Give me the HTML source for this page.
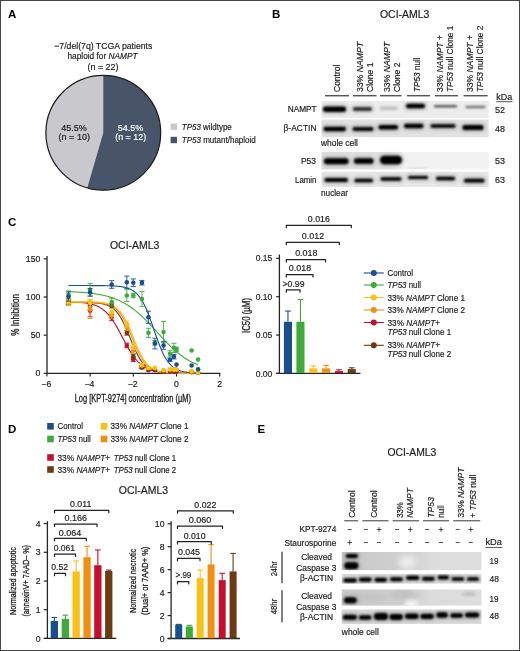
<!DOCTYPE html>
<html><head><meta charset="utf-8"><title>Figure</title>
<style>
html,body{margin:0;padding:0;background:#fff;}
body{width:520px;height:651px;overflow:hidden;position:relative;font-family:"Liberation Sans",sans-serif;}
svg{position:absolute;left:0;top:0;display:block;will-change:transform;}
svg text{font-family:"Liberation Sans",sans-serif;}
#frame{position:absolute;left:0;top:0;width:518px;height:649px;border:1px solid #474747;}
</style></head><body>
<svg width="520" height="651" viewBox="0 0 520 651" fill="#1c1c1c">
<defs>
<filter id="b0_8" x="-30%" y="-100%" width="160%" height="300%"><feGaussianBlur stdDeviation="0.8"/></filter>
<filter id="b1_0" x="-30%" y="-100%" width="160%" height="300%"><feGaussianBlur stdDeviation="1.0"/></filter>
<filter id="b1_2" x="-30%" y="-100%" width="160%" height="300%"><feGaussianBlur stdDeviation="1.2"/></filter>
<filter id="b1_3" x="-30%" y="-100%" width="160%" height="300%"><feGaussianBlur stdDeviation="1.3"/></filter>
<filter id="b1_4" x="-30%" y="-100%" width="160%" height="300%"><feGaussianBlur stdDeviation="1.4"/></filter>
<filter id="b1_5" x="-30%" y="-100%" width="160%" height="300%"><feGaussianBlur stdDeviation="1.5"/></filter>
<filter id="b2_0" x="-30%" y="-100%" width="160%" height="300%"><feGaussianBlur stdDeviation="2.0"/></filter>
<filter id="b3_0" x="-30%" y="-100%" width="160%" height="300%"><feGaussianBlur stdDeviation="3.0"/></filter>
<clipPath id="cb1"><rect x="321.3" y="100.8" width="167.5" height="17.4"/></clipPath>
<clipPath id="cb2"><rect x="321.3" y="119.3" width="167.5" height="18"/></clipPath>
<clipPath id="cb3"><rect x="321.3" y="151.8" width="167.5" height="17.8"/></clipPath>
<clipPath id="cb4"><rect x="321.3" y="171.4" width="167.5" height="15.9"/></clipPath>
<clipPath id="ce1"><rect x="341.5" y="552" width="140.2" height="18.3"/></clipPath>
<clipPath id="ce2"><rect x="341.5" y="573.8" width="140.2" height="10"/></clipPath>
<clipPath id="ce3"><rect x="341.5" y="589.3" width="140.2" height="16.5"/></clipPath>
<clipPath id="ce4"><rect x="341.5" y="609.3" width="140.2" height="14.6"/></clipPath>
<linearGradient id="gp53" x1="0" x2="1" y1="0" y2="0"><stop offset="0" stop-color="#dedede"/><stop offset="0.8" stop-color="#e2e2e2"/><stop offset="1" stop-color="#f2f2f2"/></linearGradient>
<linearGradient id="ge1" x1="0" x2="1" y1="0" y2="0"><stop offset="0" stop-color="#c9c9c9"/><stop offset="0.45" stop-color="#cfcfcf"/><stop offset="0.65" stop-color="#dcdcdc"/><stop offset="1" stop-color="#dedede"/></linearGradient>
</defs>
<text x="8" y="18.3" font-size="11.5" font-weight="bold" fill="#000" >A</text>
<text x="103.3" y="49" font-size="9" text-anchor="middle" textLength="98" lengthAdjust="spacingAndGlyphs" stroke="#1c1c1c" stroke-width="0.18" >−7/del(7q) TCGA patients</text>
<text x="102.5" y="59.3" font-size="9" text-anchor="middle" textLength="70" lengthAdjust="spacingAndGlyphs" stroke="#1c1c1c" stroke-width="0.18" >haploid for <tspan font-style="italic">NAMPT</tspan></text>
<text x="103" y="69.6" font-size="9" text-anchor="middle" textLength="31" lengthAdjust="spacingAndGlyphs" stroke="#1c1c1c" stroke-width="0.18" >(n = 22)</text>
<circle cx="103.3" cy="132.8" r="57.4" fill="#c9c8cc"/>
<path d="M103.3 132.8 L103.3 75.4 A57.4 57.4 0 1 1 87.29 187.92 Z" fill="#485568"/>
<circle cx="103.3" cy="132.8" r="57.4" fill="none" stroke="#1a1a1a" stroke-width="1.2"/>
<text x="73.9" y="130.6" font-size="9" text-anchor="middle" textLength="25.5" lengthAdjust="spacingAndGlyphs" stroke="#1c1c1c" stroke-width="0.18" >45.5%</text>
<text x="74.3" y="140" font-size="9" text-anchor="middle" textLength="31.5" lengthAdjust="spacingAndGlyphs" stroke="#1c1c1c" stroke-width="0.18" >(n = 10)</text>
<text x="130.6" y="130.6" font-size="9" text-anchor="middle" textLength="25.5" lengthAdjust="spacingAndGlyphs" fill="#fff" stroke="#fff" stroke-width="0.18" >54.5%</text>
<text x="130.7" y="140" font-size="9" text-anchor="middle" textLength="31" lengthAdjust="spacingAndGlyphs" fill="#fff" stroke="#fff" stroke-width="0.18" >(n = 12)</text>
<rect x="170.6" y="123.5" width="6.4" height="6.4" fill="#c9c8cc" />
<rect x="170.6" y="136.8" width="6.4" height="6.4" fill="#485568" />
<text x="181.8" y="129.7" font-size="8.7" textLength="50" lengthAdjust="spacingAndGlyphs" stroke="#1c1c1c" stroke-width="0.18" ><tspan font-style="italic">TP53</tspan> wildtype</text>
<text x="181.8" y="143" font-size="8.7" textLength="74" lengthAdjust="spacingAndGlyphs" stroke="#1c1c1c" stroke-width="0.18" ><tspan font-style="italic">TP53</tspan> mutant/haploid</text>
<text x="272" y="18.3" font-size="11.5" font-weight="bold" fill="#000" >B</text>
<text x="380" y="18.3" font-size="10.4" textLength="49.3" lengthAdjust="spacingAndGlyphs" stroke="#1c1c1c" stroke-width="0.18" >OCI-AML3</text>
<line x1="325" y1="95.8" x2="349" y2="95.8" stroke="#111" stroke-width="1" />
<line x1="353" y1="95.8" x2="376.5" y2="95.8" stroke="#111" stroke-width="1" />
<line x1="380" y1="95.8" x2="401.5" y2="95.8" stroke="#111" stroke-width="1" />
<line x1="407" y1="95.8" x2="430" y2="95.8" stroke="#111" stroke-width="1" />
<line x1="435" y1="95.8" x2="458" y2="95.8" stroke="#111" stroke-width="1" />
<line x1="463.5" y1="95.8" x2="487.7" y2="95.8" stroke="#111" stroke-width="1" />
<text font-size="8.7" textLength="27.4" lengthAdjust="spacingAndGlyphs" stroke="#1c1c1c" stroke-width="0.18" transform="translate(340 92) rotate(-90)" >Control</text>
<text font-size="8.7" textLength="50" lengthAdjust="spacingAndGlyphs" stroke="#1c1c1c" stroke-width="0.18" transform="translate(362.5 92) rotate(-90)" >33% <tspan font-style="italic">NAMPT</tspan></text>
<text font-size="8.7" textLength="29.5" lengthAdjust="spacingAndGlyphs" stroke="#1c1c1c" stroke-width="0.18" transform="translate(372.5 92) rotate(-90)" >Clone 1</text>
<text font-size="8.7" textLength="50" lengthAdjust="spacingAndGlyphs" stroke="#1c1c1c" stroke-width="0.18" transform="translate(390.2 92) rotate(-90)" >33% <tspan font-style="italic">NAMPT</tspan></text>
<text font-size="8.7" textLength="29.5" lengthAdjust="spacingAndGlyphs" stroke="#1c1c1c" stroke-width="0.18" transform="translate(400.2 92) rotate(-90)" >Clone 2</text>
<text font-size="8.7" textLength="34.7" lengthAdjust="spacingAndGlyphs" stroke="#1c1c1c" stroke-width="0.18" transform="translate(420.4 92) rotate(-90)" ><tspan font-style="italic">TP53</tspan> null</text>
<text font-size="8.7" textLength="57" lengthAdjust="spacingAndGlyphs" stroke="#1c1c1c" stroke-width="0.18" transform="translate(443.3 92) rotate(-90)" >33% <tspan font-style="italic">NAMPT</tspan> +</text>
<text font-size="8.7" textLength="66.4" lengthAdjust="spacingAndGlyphs" stroke="#1c1c1c" stroke-width="0.18" transform="translate(453.2 92) rotate(-90)" ><tspan font-style="italic">TP53</tspan> null Clone 1</text>
<text font-size="8.7" textLength="57" lengthAdjust="spacingAndGlyphs" stroke="#1c1c1c" stroke-width="0.18" transform="translate(472.9 92) rotate(-90)" >33% <tspan font-style="italic">NAMPT</tspan> +</text>
<text font-size="8.7" textLength="66.4" lengthAdjust="spacingAndGlyphs" stroke="#1c1c1c" stroke-width="0.18" transform="translate(483.1 92) rotate(-90)" ><tspan font-style="italic">TP53</tspan> null Clone 2</text>
<text x="496.3" y="100" font-size="8.7" textLength="16" lengthAdjust="spacingAndGlyphs" stroke="#1c1c1c" stroke-width="0.18" >kDa</text>
<line x1="496.3" y1="101.7" x2="512.5" y2="101.7" stroke="#222" stroke-width="0.8" />
<text x="316.6" y="111.9" font-size="8.7" text-anchor="end" textLength="28.9" lengthAdjust="spacingAndGlyphs" stroke="#1c1c1c" stroke-width="0.18" >NAMPT</text>
<text x="316.5" y="131" font-size="8.7" text-anchor="end" textLength="33" lengthAdjust="spacingAndGlyphs" stroke="#1c1c1c" stroke-width="0.18" >β-ACTIN</text>
<text x="321" y="146" font-size="8.7" textLength="37" lengthAdjust="spacingAndGlyphs" stroke="#1c1c1c" stroke-width="0.18" >whole cell</text>
<text x="316" y="163.8" font-size="8.7" text-anchor="end" textLength="15" lengthAdjust="spacingAndGlyphs" stroke="#1c1c1c" stroke-width="0.18" >P53</text>
<text x="316.5" y="182.5" font-size="8.7" text-anchor="end" textLength="21.5" lengthAdjust="spacingAndGlyphs" stroke="#1c1c1c" stroke-width="0.18" >Lamin</text>
<text x="321" y="196" font-size="8.7" textLength="27" lengthAdjust="spacingAndGlyphs" stroke="#1c1c1c" stroke-width="0.18" >nuclear</text>
<text x="495" y="113" font-size="8.7" textLength="10" lengthAdjust="spacingAndGlyphs" stroke="#1c1c1c" stroke-width="0.18" >52</text>
<text x="495" y="131.5" font-size="8.7" textLength="10" lengthAdjust="spacingAndGlyphs" stroke="#1c1c1c" stroke-width="0.18" >48</text>
<text x="495" y="163.8" font-size="8.7" textLength="10" lengthAdjust="spacingAndGlyphs" stroke="#1c1c1c" stroke-width="0.18" >53</text>
<text x="495" y="182.5" font-size="8.7" textLength="10" lengthAdjust="spacingAndGlyphs" stroke="#1c1c1c" stroke-width="0.18" >63</text>
<g clip-path="url(#cb1)">
<rect x="321.3" y="100.8" width="167.5" height="17.4" fill="#ececec" />
<rect x="321.495" y="105.05" width="26.00999999999999" height="8.5" rx="4.25" fill="#000" opacity="0.22" filter="url(#b2_0)"/>
<rect x="322.995" y="106.55" width="23.00999999999999" height="5.5" rx="2.75" ry="2.75" fill="#000" opacity="1" filter="url(#b1_0)"/>
<rect x="351.495" y="105.85" width="22.00999999999999" height="6.300000000000001" rx="3.1500000000000004" fill="#000" opacity="0.22" filter="url(#b2_0)"/>
<rect x="352.995" y="107.35" width="19.00999999999999" height="3.3000000000000003" rx="1.6500000000000001" ry="1.6500000000000001" fill="#000" opacity="0.8" filter="url(#b1_2)"/>
<rect x="379.495" y="107.05" width="18.00999999999999" height="2.3000000000000003" rx="1.1500000000000001" ry="1.1500000000000001" fill="#000" opacity="0.3" filter="url(#b1_5)"/>
<rect x="404.495" y="102.15" width="22.00999999999999" height="7.699999999999999" rx="3.8499999999999996" fill="#000" opacity="0.22" filter="url(#b2_0)"/>
<rect x="405.995" y="103.65" width="19.00999999999999" height="4.699999999999999" rx="2.3499999999999996" ry="2.3499999999999996" fill="#000" opacity="1" filter="url(#b1_0)"/>
<rect x="433.995" y="105.05" width="23.00999999999999" height="2.5" rx="1.25" ry="1.25" fill="#000" opacity="0.62" filter="url(#b1_3)"/>
<rect x="465.495" y="105.75" width="20.00999999999999" height="2.5" rx="1.25" ry="1.25" fill="#000" opacity="0.52" filter="url(#b1_3)"/>
</g>
<g clip-path="url(#cb2)">
<rect x="321.3" y="119.3" width="167.5" height="18" fill="#e2e2e2" />
<rect x="321.995" y="125.35" width="25.50999999999999" height="7.3" rx="3.65" fill="#000" opacity="0.22" filter="url(#b2_0)"/>
<rect x="323.495" y="126.85" width="22.50999999999999" height="4.3" rx="2.15" ry="2.15" fill="#000" opacity="1" filter="url(#b1_0)"/>
<rect x="350.995" y="125.45" width="24.00999999999999" height="7.1" rx="3.55" fill="#000" opacity="0.22" filter="url(#b2_0)"/>
<rect x="352.495" y="126.95" width="21.00999999999999" height="4.1" rx="2.05" ry="2.05" fill="#000" opacity="0.95" filter="url(#b1_0)"/>
<rect x="376.995" y="123.45" width="22.50999999999999" height="7.5" rx="3.75" fill="#000" opacity="0.22" filter="url(#b2_0)"/>
<rect x="378.495" y="124.95" width="19.50999999999999" height="4.5" rx="2.25" ry="2.25" fill="#000" opacity="1" filter="url(#b1_0)"/>
<rect x="402.495" y="122.35" width="22.50999999999999" height="7.3" rx="3.65" fill="#000" opacity="0.22" filter="url(#b2_0)"/>
<rect x="403.995" y="123.85" width="19.50999999999999" height="4.3" rx="2.15" ry="2.15" fill="#000" opacity="1" filter="url(#b1_0)"/>
<rect x="428.995" y="122.75" width="28.00999999999999" height="6.5" rx="3.25" fill="#000" opacity="0.22" filter="url(#b2_0)"/>
<rect x="430.495" y="124.25" width="25.00999999999999" height="3.5000000000000004" rx="1.7500000000000002" ry="1.7500000000000002" fill="#000" opacity="1" filter="url(#b1_0)"/>
<rect x="460.995" y="123.45" width="24.00999999999999" height="8.1" rx="4.05" fill="#000" opacity="0.22" filter="url(#b2_0)"/>
<rect x="462.495" y="124.95" width="21.00999999999999" height="5.1" rx="2.55" ry="2.55" fill="#000" opacity="1" filter="url(#b1_0)"/>
</g>
<g clip-path="url(#cb3)">
<rect x="321.3" y="151.8" width="167.5" height="17.8" fill="#f2f2f2" />
<rect x="321.3" y="151.8" width="84" height="17.8" fill="url(#gp53)" />
<rect x="322.495" y="156.75" width="27.50999999999999" height="9.1" rx="4.55" fill="#000" opacity="0.22" filter="url(#b2_0)"/>
<rect x="323.995" y="158.25" width="24.50999999999999" height="6.1" rx="3.05" ry="3.05" fill="#000" opacity="1" filter="url(#b1_0)"/>
<rect x="352.495" y="156.65" width="22.50999999999999" height="8.7" rx="4.35" fill="#000" opacity="0.22" filter="url(#b2_0)"/>
<rect x="353.995" y="158.15" width="19.50999999999999" height="5.699999999999999" rx="2.8499999999999996" ry="2.8499999999999996" fill="#000" opacity="1" filter="url(#b1_0)"/>
<rect x="378.495" y="154.15" width="25.00999999999999" height="11.7" rx="5.85" fill="#000" opacity="0.22" filter="url(#b2_0)"/>
<rect x="379.995" y="155.65" width="22.00999999999999" height="8.7" rx="4.35" ry="4.35" fill="#000" opacity="1" filter="url(#b1_0)"/>
<rect x="407.495" y="167.7" width="20.00999999999999" height="1.6" rx="0.8" ry="0.8" fill="#000" opacity="0.12" filter="url(#b1_5)"/>
</g>
<g clip-path="url(#cb4)">
<rect x="321.3" y="171.4" width="167.5" height="15.9" fill="#e7e7e7" />
<rect x="322.995" y="176.45" width="26.50999999999999" height="7.1" rx="3.55" fill="#000" opacity="0.22" filter="url(#b2_0)"/>
<rect x="324.495" y="177.95" width="23.50999999999999" height="4.1" rx="2.05" ry="2.05" fill="#000" opacity="1" filter="url(#b1_0)"/>
<rect x="352.995" y="177.15" width="21.50999999999999" height="6.699999999999999" rx="3.3499999999999996" fill="#000" opacity="0.22" filter="url(#b2_0)"/>
<rect x="354.495" y="178.65" width="18.50999999999999" height="3.6999999999999997" rx="1.8499999999999999" ry="1.8499999999999999" fill="#000" opacity="1" filter="url(#b1_0)"/>
<rect x="378.995" y="175.75" width="24.00999999999999" height="6.5" rx="3.25" fill="#000" opacity="0.22" filter="url(#b2_0)"/>
<rect x="380.495" y="177.25" width="21.00999999999999" height="3.5000000000000004" rx="1.7500000000000002" ry="1.7500000000000002" fill="#000" opacity="1" filter="url(#b1_0)"/>
<rect x="406.495" y="174.5" width="23.00999999999999" height="6.0" rx="3.0" fill="#000" opacity="0.22" filter="url(#b2_0)"/>
<rect x="407.995" y="176.0" width="20.00999999999999" height="3.0" rx="1.5" ry="1.5" fill="#000" opacity="1" filter="url(#b1_0)"/>
<rect x="434.495" y="175.35" width="22.00999999999999" height="6.5" rx="3.25" fill="#000" opacity="0.22" filter="url(#b2_0)"/>
<rect x="435.995" y="176.85" width="19.00999999999999" height="3.5000000000000004" rx="1.7500000000000002" ry="1.7500000000000002" fill="#000" opacity="1" filter="url(#b1_0)"/>
<rect x="462.495" y="177.35" width="23.50999999999999" height="6.699999999999999" rx="3.3499999999999996" fill="#000" opacity="0.22" filter="url(#b2_0)"/>
<rect x="463.995" y="178.85" width="20.50999999999999" height="3.6999999999999997" rx="1.8499999999999999" ry="1.8499999999999999" fill="#000" opacity="1" filter="url(#b1_0)"/>
</g>
<text x="8" y="226.3" font-size="11.5" font-weight="bold" fill="#000" >C</text>
<text x="110" y="248.8" font-size="10.4" textLength="49.3" lengthAdjust="spacingAndGlyphs" stroke="#1c1c1c" stroke-width="0.18" >OCI-AML3</text>
<line x1="47" y1="256" x2="47" y2="374" stroke="#262626" stroke-width="1.3" />
<line x1="46.4" y1="373.3" x2="220.3" y2="373.3" stroke="#262626" stroke-width="1.3" />
<line x1="43.7" y1="373.3" x2="47" y2="373.3" stroke="#262626" stroke-width="1.2" />
<text x="40.3" y="376.40000000000003" font-size="8.7" text-anchor="end" stroke="#1c1c1c" stroke-width="0.18" >0</text>
<line x1="43.7" y1="335.15000000000003" x2="47" y2="335.15000000000003" stroke="#262626" stroke-width="1.2" />
<text x="40.3" y="338.25000000000006" font-size="8.7" text-anchor="end" stroke="#1c1c1c" stroke-width="0.18" >50</text>
<line x1="43.7" y1="297.0" x2="47" y2="297.0" stroke="#262626" stroke-width="1.2" />
<text x="40.3" y="300.1" font-size="8.7" text-anchor="end" stroke="#1c1c1c" stroke-width="0.18" >100</text>
<line x1="43.7" y1="258.85" x2="47" y2="258.85" stroke="#262626" stroke-width="1.2" />
<text x="40.3" y="261.95000000000005" font-size="8.7" text-anchor="end" stroke="#1c1c1c" stroke-width="0.18" >150</text>
<line x1="46.89999999999998" y1="373.3" x2="46.89999999999998" y2="376.5" stroke="#262626" stroke-width="1.2" />
<text x="46.299999999999976" y="387" font-size="8.7" text-anchor="middle" stroke="#1c1c1c" stroke-width="0.18" >−6</text>
<line x1="90.1" y1="373.3" x2="90.1" y2="376.5" stroke="#262626" stroke-width="1.2" />
<text x="89.5" y="387" font-size="8.7" text-anchor="middle" stroke="#1c1c1c" stroke-width="0.18" >−4</text>
<line x1="133.3" y1="373.3" x2="133.3" y2="376.5" stroke="#262626" stroke-width="1.2" />
<text x="132.70000000000002" y="387" font-size="8.7" text-anchor="middle" stroke="#1c1c1c" stroke-width="0.18" >−2</text>
<line x1="176.5" y1="373.3" x2="176.5" y2="376.5" stroke="#262626" stroke-width="1.2" />
<text x="176.5" y="387" font-size="8.7" text-anchor="middle" stroke="#1c1c1c" stroke-width="0.18" >0</text>
<line x1="219.7" y1="373.3" x2="219.7" y2="376.5" stroke="#262626" stroke-width="1.2" />
<text x="219.7" y="387" font-size="8.7" text-anchor="middle" stroke="#1c1c1c" stroke-width="0.18" >2</text>
<text font-size="10.2" text-anchor="middle" textLength="41.5" lengthAdjust="spacingAndGlyphs" transform="translate(19 314.9) rotate(-90)" stroke="#1c1c1c" stroke-width="0.3">% Inhibition</text>
<text x="132.8" y="402.4" font-size="10" text-anchor="middle" textLength="116.2" lengthAdjust="spacingAndGlyphs" stroke="#1c1c1c" stroke-width="0.3">Log [KPT-9274] concentration (µM)</text>
<path d="M68.50 301.80 L69.58 301.83 L70.66 301.86 L71.74 301.90 L72.82 301.94 L73.90 301.98 L74.98 302.03 L76.06 302.08 L77.14 302.14 L78.22 302.21 L79.30 302.29 L80.38 302.37 L81.46 302.47 L82.54 302.58 L83.62 302.70 L84.70 302.83 L85.78 302.98 L86.86 303.15 L87.94 303.34 L89.02 303.54 L90.10 303.78 L91.18 304.04 L92.26 304.32 L93.34 304.64 L94.42 305.00 L95.50 305.40 L96.58 305.83 L97.66 306.32 L98.74 306.86 L99.82 307.45 L100.90 308.10 L101.98 308.81 L103.06 309.60 L104.14 310.46 L105.22 311.39 L106.30 312.41 L107.38 313.51 L108.46 314.70 L109.54 315.98 L110.62 317.35 L111.70 318.81 L112.78 320.36 L113.86 322.00 L114.94 323.72 L116.02 325.52 L117.10 327.39 L118.18 329.32 L119.26 331.31 L120.34 333.33 L121.42 335.38 L122.50 337.44 L123.58 339.50 L124.66 341.55 L125.74 343.57 L126.82 345.55 L127.90 347.48 L128.98 349.35 L130.06 351.15 L131.14 352.88 L132.22 354.52 L133.30 356.07 L134.38 357.53 L135.46 358.90 L136.54 360.18 L137.62 361.37 L138.70 362.47 L139.78 363.49 L140.86 364.42 L141.94 365.28 L143.02 366.06 L144.10 366.78 L145.18 367.43 L146.26 368.02 L147.34 368.56 L148.42 369.04 L149.50 369.48 L150.58 369.88 L151.66 370.23 L152.74 370.55 L153.82 370.84 L154.90 371.10 L155.98 371.33 L157.06 371.54 L158.14 371.73 L159.22 371.90 L160.30 372.05 L161.38 372.18 L162.46 372.30 L163.54 372.41 L164.62 372.50 L165.70 372.59 L166.78 372.67 L167.86 372.73 L168.94 372.80 L170.02 372.85 L171.10 372.90 L172.18 372.94 L173.26 372.98 L174.34 373.02 L175.42 373.05 L176.50 373.07 L177.58 373.10 L178.66 373.12 L179.74 373.14 L180.82 373.16 L181.90 373.17 L182.98 373.19 L184.06 373.20 L185.14 373.21 L186.22 373.22 L187.30 373.23 L188.38 373.24 L189.46 373.24 L190.54 373.25 L191.62 373.25 L192.70 373.26 L193.78 373.26 L194.86 373.27 L195.94 373.27 L197.02 373.27 L198.10 373.28" fill="none" stroke="#c50f2e" stroke-width="1.1"/>
<path d="M68.50 302.35 L69.58 302.36 L70.66 302.36 L71.74 302.36 L72.82 302.37 L73.90 302.37 L74.98 302.38 L76.06 302.38 L77.14 302.39 L78.22 302.39 L79.30 302.40 L80.38 302.41 L81.46 302.43 L82.54 302.44 L83.62 302.45 L84.70 302.47 L85.78 302.49 L86.86 302.52 L87.94 302.55 L89.02 302.58 L90.10 302.62 L91.18 302.66 L92.26 302.72 L93.34 302.78 L94.42 302.85 L95.50 302.93 L96.58 303.02 L97.66 303.13 L98.74 303.25 L99.82 303.40 L100.90 303.57 L101.98 303.76 L103.06 303.98 L104.14 304.24 L105.22 304.54 L106.30 304.88 L107.38 305.28 L108.46 305.73 L109.54 306.24 L110.62 306.83 L111.70 307.51 L112.78 308.27 L113.86 309.14 L114.94 310.11 L116.02 311.21 L117.10 312.44 L118.18 313.81 L119.26 315.32 L120.34 316.98 L121.42 318.80 L122.50 320.77 L123.58 322.88 L124.66 325.13 L125.74 327.51 L126.82 329.99 L127.90 332.55 L128.98 335.17 L130.06 337.82 L131.14 340.47 L132.22 343.09 L133.30 345.65 L134.38 348.13 L135.46 350.51 L136.54 352.76 L137.62 354.87 L138.70 356.84 L139.78 358.66 L140.86 360.32 L141.94 361.83 L143.02 363.20 L144.10 364.43 L145.18 365.53 L146.26 366.50 L147.34 367.37 L148.42 368.13 L149.50 368.81 L150.58 369.40 L151.66 369.91 L152.74 370.36 L153.82 370.76 L154.90 371.10 L155.98 371.40 L157.06 371.66 L158.14 371.88 L159.22 372.07 L160.30 372.24 L161.38 372.39 L162.46 372.51 L163.54 372.62 L164.62 372.71 L165.70 372.80 L166.78 372.87 L167.86 372.93 L168.94 372.98 L170.02 373.02 L171.10 373.06 L172.18 373.09 L173.26 373.12 L174.34 373.15 L175.42 373.17 L176.50 373.19 L177.58 373.20 L178.66 373.22 L179.74 373.23 L180.82 373.24 L181.90 373.25 L182.98 373.25 L184.06 373.26 L185.14 373.27 L186.22 373.27 L187.30 373.27 L188.38 373.28 L189.46 373.28 L190.54 373.28 L191.62 373.29 L192.70 373.29 L193.78 373.29 L194.86 373.29 L195.94 373.29 L197.02 373.29 L198.10 373.29" fill="none" stroke="#6c3b12" stroke-width="1.1"/>
<path d="M68.50 302.35 L69.58 302.35 L70.66 302.35 L71.74 302.36 L72.82 302.36 L73.90 302.36 L74.98 302.37 L76.06 302.37 L77.14 302.38 L78.22 302.38 L79.30 302.39 L80.38 302.39 L81.46 302.40 L82.54 302.41 L83.62 302.43 L84.70 302.44 L85.78 302.45 L86.86 302.47 L87.94 302.49 L89.02 302.52 L90.10 302.55 L91.18 302.58 L92.26 302.62 L93.34 302.66 L94.42 302.72 L95.50 302.78 L96.58 302.85 L97.66 302.93 L98.74 303.02 L99.82 303.13 L100.90 303.25 L101.98 303.40 L103.06 303.57 L104.14 303.76 L105.22 303.98 L106.30 304.24 L107.38 304.54 L108.46 304.88 L109.54 305.28 L110.62 305.73 L111.70 306.24 L112.78 306.83 L113.86 307.51 L114.94 308.27 L116.02 309.14 L117.10 310.11 L118.18 311.21 L119.26 312.44 L120.34 313.81 L121.42 315.32 L122.50 316.98 L123.58 318.80 L124.66 320.77 L125.74 322.88 L126.82 325.13 L127.90 327.51 L128.98 329.99 L130.06 332.55 L131.14 335.17 L132.22 337.82 L133.30 340.47 L134.38 343.09 L135.46 345.65 L136.54 348.13 L137.62 350.51 L138.70 352.76 L139.78 354.87 L140.86 356.84 L141.94 358.66 L143.02 360.32 L144.10 361.83 L145.18 363.20 L146.26 364.43 L147.34 365.53 L148.42 366.50 L149.50 367.37 L150.58 368.13 L151.66 368.81 L152.74 369.40 L153.82 369.91 L154.90 370.36 L155.98 370.76 L157.06 371.10 L158.14 371.40 L159.22 371.66 L160.30 371.88 L161.38 372.07 L162.46 372.24 L163.54 372.39 L164.62 372.51 L165.70 372.62 L166.78 372.71 L167.86 372.80 L168.94 372.87 L170.02 372.93 L171.10 372.98 L172.18 373.02 L173.26 373.06 L174.34 373.09 L175.42 373.12 L176.50 373.15 L177.58 373.17 L178.66 373.19 L179.74 373.20 L180.82 373.22 L181.90 373.23 L182.98 373.24 L184.06 373.25 L185.14 373.25 L186.22 373.26 L187.30 373.27 L188.38 373.27 L189.46 373.27 L190.54 373.28 L191.62 373.28 L192.70 373.28 L193.78 373.29 L194.86 373.29 L195.94 373.29 L197.02 373.29 L198.10 373.29" fill="none" stroke="#f28e10" stroke-width="1.1"/>
<path d="M68.50 301.59 L69.58 301.59 L70.66 301.59 L71.74 301.59 L72.82 301.59 L73.90 301.60 L74.98 301.60 L76.06 301.60 L77.14 301.61 L78.22 301.61 L79.30 301.62 L80.38 301.62 L81.46 301.63 L82.54 301.64 L83.62 301.65 L84.70 301.66 L85.78 301.68 L86.86 301.69 L87.94 301.71 L89.02 301.73 L90.10 301.76 L91.18 301.79 L92.26 301.82 L93.34 301.86 L94.42 301.90 L95.50 301.96 L96.58 302.02 L97.66 302.09 L98.74 302.17 L99.82 302.26 L100.90 302.37 L101.98 302.50 L103.06 302.65 L104.14 302.82 L105.22 303.01 L106.30 303.24 L107.38 303.50 L108.46 303.80 L109.54 304.15 L110.62 304.54 L111.70 305.00 L112.78 305.52 L113.86 306.12 L114.94 306.80 L116.02 307.57 L117.10 308.45 L118.18 309.44 L119.26 310.55 L120.34 311.79 L121.42 313.17 L122.50 314.70 L123.58 316.38 L124.66 318.21 L125.74 320.20 L126.82 322.34 L127.90 324.61 L128.98 327.01 L130.06 329.52 L131.14 332.11 L132.22 334.76 L133.30 337.44 L134.38 340.12 L135.46 342.77 L136.54 345.36 L137.62 347.86 L138.70 350.26 L139.78 352.54 L140.86 354.68 L141.94 356.66 L143.02 358.50 L144.10 360.18 L145.18 361.71 L146.26 363.09 L147.34 364.33 L148.42 365.44 L149.50 366.43 L150.58 367.31 L151.66 368.08 L152.74 368.76 L153.82 369.35 L154.90 369.88 L155.98 370.33 L157.06 370.73 L158.14 371.08 L159.22 371.38 L160.30 371.64 L161.38 371.86 L162.46 372.06 L163.54 372.23 L164.62 372.38 L165.70 372.50 L166.78 372.61 L167.86 372.71 L168.94 372.79 L170.02 372.86 L171.10 372.92 L172.18 372.97 L173.26 373.02 L174.34 373.06 L175.42 373.09 L176.50 373.12 L177.58 373.15 L178.66 373.17 L179.74 373.19 L180.82 373.20 L181.90 373.21 L182.98 373.23 L184.06 373.24 L185.14 373.25 L186.22 373.25 L187.30 373.26 L188.38 373.27 L189.46 373.27 L190.54 373.27 L191.62 373.28 L192.70 373.28 L193.78 373.28 L194.86 373.29 L195.94 373.29 L197.02 373.29 L198.10 373.29" fill="none" stroke="#fac015" stroke-width="1.1"/>
<path d="M68.50 291.62 L69.58 291.67 L70.66 291.71 L71.74 291.76 L72.82 291.81 L73.90 291.86 L74.98 291.92 L76.06 291.98 L77.14 292.04 L78.22 292.11 L79.30 292.18 L80.38 292.26 L81.46 292.34 L82.54 292.42 L83.62 292.51 L84.70 292.60 L85.78 292.70 L86.86 292.80 L87.94 292.92 L89.02 293.03 L90.10 293.15 L91.18 293.28 L92.26 293.42 L93.34 293.57 L94.42 293.72 L95.50 293.88 L96.58 294.05 L97.66 294.23 L98.74 294.42 L99.82 294.62 L100.90 294.83 L101.98 295.05 L103.06 295.28 L104.14 295.53 L105.22 295.79 L106.30 296.06 L107.38 296.34 L108.46 296.64 L109.54 296.96 L110.62 297.29 L111.70 297.64 L112.78 298.00 L113.86 298.39 L114.94 298.79 L116.02 299.21 L117.10 299.65 L118.18 300.11 L119.26 300.59 L120.34 301.10 L121.42 301.62 L122.50 302.17 L123.58 302.74 L124.66 303.34 L125.74 303.96 L126.82 304.60 L127.90 305.27 L128.98 305.97 L130.06 306.69 L131.14 307.44 L132.22 308.21 L133.30 309.01 L134.38 309.84 L135.46 310.69 L136.54 311.57 L137.62 312.48 L138.70 313.41 L139.78 314.36 L140.86 315.34 L141.94 316.34 L143.02 317.36 L144.10 318.41 L145.18 319.47 L146.26 320.56 L147.34 321.66 L148.42 322.78 L149.50 323.91 L150.58 325.05 L151.66 326.21 L152.74 327.38 L153.82 328.55 L154.90 329.73 L155.98 330.91 L157.06 332.10 L158.14 333.28 L159.22 334.47 L160.30 335.65 L161.38 336.82 L162.46 337.99 L163.54 339.14 L164.62 340.29 L165.70 341.42 L166.78 342.54 L167.86 343.64 L168.94 344.72 L170.02 345.79 L171.10 346.83 L172.18 347.86 L173.26 348.86 L174.34 349.84 L175.42 350.79 L176.50 351.72 L177.58 352.62 L178.66 353.50 L179.74 354.36 L180.82 355.18 L181.90 355.98 L182.98 356.76 L184.06 357.50 L185.14 358.23 L186.22 358.92 L187.30 359.59 L188.38 360.24 L189.46 360.86 L190.54 361.45 L191.62 362.03 L192.70 362.58 L193.78 363.10 L194.86 363.60 L195.94 364.09 L197.02 364.55 L198.10 364.99" fill="none" stroke="#3daa3a" stroke-width="1.1"/>
<path d="M68.50 285.56 L69.58 285.56 L70.66 285.56 L71.74 285.56 L72.82 285.56 L73.90 285.56 L74.98 285.56 L76.06 285.56 L77.14 285.56 L78.22 285.56 L79.30 285.56 L80.38 285.56 L81.46 285.56 L82.54 285.56 L83.62 285.56 L84.70 285.56 L85.78 285.57 L86.86 285.57 L87.94 285.57 L89.02 285.57 L90.10 285.57 L91.18 285.58 L92.26 285.58 L93.34 285.58 L94.42 285.59 L95.50 285.59 L96.58 285.60 L97.66 285.60 L98.74 285.61 L99.82 285.62 L100.90 285.63 L101.98 285.64 L103.06 285.66 L104.14 285.67 L105.22 285.69 L106.30 285.71 L107.38 285.73 L108.46 285.76 L109.54 285.79 L110.62 285.83 L111.70 285.87 L112.78 285.92 L113.86 285.98 L114.94 286.05 L116.02 286.12 L117.10 286.21 L118.18 286.31 L119.26 286.42 L120.34 286.56 L121.42 286.71 L122.50 286.89 L123.58 287.09 L124.66 287.32 L125.74 287.59 L126.82 287.89 L127.90 288.24 L128.98 288.65 L130.06 289.11 L131.14 289.63 L132.22 290.23 L133.30 290.91 L134.38 291.68 L135.46 292.55 L136.54 293.53 L137.62 294.64 L138.70 295.88 L139.78 297.26 L140.86 298.80 L141.94 300.50 L143.02 302.37 L144.10 304.42 L145.18 306.64 L146.26 309.03 L147.34 311.58 L148.42 314.29 L149.50 317.14 L150.58 320.10 L151.66 323.16 L152.74 326.28 L153.82 329.43 L154.90 332.58 L155.98 335.70 L157.06 338.75 L158.14 341.72 L159.22 344.56 L160.30 347.27 L161.38 349.83 L162.46 352.22 L163.54 354.44 L164.62 356.48 L165.70 358.35 L166.78 360.05 L167.86 361.59 L168.94 362.98 L170.02 364.22 L171.10 365.32 L172.18 366.31 L173.26 367.18 L174.34 367.95 L175.42 368.63 L176.50 369.23 L177.58 369.75 L178.66 370.21 L179.74 370.61 L180.82 370.96 L181.90 371.27 L182.98 371.53 L184.06 371.77 L185.14 371.97 L186.22 372.15 L187.30 372.30 L188.38 372.43 L189.46 372.55 L190.54 372.65 L191.62 372.73 L192.70 372.81 L193.78 372.87 L194.86 372.93 L195.94 372.98 L197.02 373.02 L198.10 373.06" fill="none" stroke="#1a4f8e" stroke-width="1.1"/>
<line x1="68.5" y1="299.289" x2="68.5" y2="303.867" stroke="#c50f2e" stroke-width="0.9" />
<line x1="65.9" y1="299.289" x2="71.1" y2="299.289" stroke="#c50f2e" stroke-width="0.9" />
<line x1="65.9" y1="303.867" x2="71.1" y2="303.867" stroke="#c50f2e" stroke-width="0.9" />
<line x1="90.1" y1="304.63" x2="90.1" y2="316.838" stroke="#c50f2e" stroke-width="0.9" />
<line x1="87.5" y1="304.63" x2="92.69999999999999" y2="304.63" stroke="#c50f2e" stroke-width="0.9" />
<line x1="87.5" y1="316.838" x2="92.69999999999999" y2="316.838" stroke="#c50f2e" stroke-width="0.9" />
<line x1="111.69999999999999" y1="314.54900000000004" x2="111.69999999999999" y2="320.653" stroke="#c50f2e" stroke-width="0.9" />
<line x1="109.1" y1="314.54900000000004" x2="114.29999999999998" y2="314.54900000000004" stroke="#c50f2e" stroke-width="0.9" />
<line x1="109.1" y1="320.653" x2="114.29999999999998" y2="320.653" stroke="#c50f2e" stroke-width="0.9" />
<line x1="126.82" y1="343.1615" x2="126.82" y2="347.7395" stroke="#c50f2e" stroke-width="0.9" />
<line x1="124.22" y1="343.1615" x2="129.42" y2="343.1615" stroke="#c50f2e" stroke-width="0.9" />
<line x1="124.22" y1="347.7395" x2="129.42" y2="347.7395" stroke="#c50f2e" stroke-width="0.9" />
<line x1="133.3" y1="356.97180000000003" x2="133.3" y2="361.5498" stroke="#c50f2e" stroke-width="0.9" />
<line x1="130.70000000000002" y1="356.97180000000003" x2="135.9" y2="356.97180000000003" stroke="#c50f2e" stroke-width="0.9" />
<line x1="130.70000000000002" y1="361.5498" x2="135.9" y2="361.5498" stroke="#c50f2e" stroke-width="0.9" />
<line x1="141.94" y1="365.67" x2="141.94" y2="368.72200000000004" stroke="#c50f2e" stroke-width="0.9" />
<line x1="139.34" y1="365.67" x2="144.54" y2="365.67" stroke="#c50f2e" stroke-width="0.9" />
<line x1="139.34" y1="368.72200000000004" x2="144.54" y2="368.72200000000004" stroke="#c50f2e" stroke-width="0.9" />
<circle cx="68.50" cy="301.58" r="2.3" fill="#c50f2e"/>
<circle cx="90.10" cy="310.73" r="2.3" fill="#c50f2e"/>
<circle cx="111.70" cy="317.60" r="2.3" fill="#c50f2e"/>
<circle cx="126.82" cy="345.45" r="2.3" fill="#c50f2e"/>
<circle cx="133.30" cy="359.26" r="2.3" fill="#c50f2e"/>
<circle cx="141.94" cy="367.20" r="2.3" fill="#c50f2e"/>
<circle cx="148.42" cy="370.25" r="2.3" fill="#c50f2e"/>
<circle cx="154.90" cy="370.25" r="2.3" fill="#c50f2e"/>
<circle cx="163.54" cy="371.77" r="2.3" fill="#c50f2e"/>
<circle cx="170.02" cy="371.77" r="2.3" fill="#c50f2e"/>
<circle cx="173.91" cy="371.77" r="2.3" fill="#c50f2e"/>
<circle cx="176.50" cy="371.77" r="2.3" fill="#c50f2e"/>
<circle cx="191.62" cy="372.16" r="2.3" fill="#c50f2e"/>
<circle cx="198.10" cy="372.54" r="2.3" fill="#c50f2e"/>
<line x1="68.5" y1="300.052" x2="68.5" y2="304.63" stroke="#6c3b12" stroke-width="0.9" />
<line x1="65.9" y1="300.052" x2="71.1" y2="300.052" stroke="#6c3b12" stroke-width="0.9" />
<line x1="65.9" y1="304.63" x2="71.1" y2="304.63" stroke="#6c3b12" stroke-width="0.9" />
<line x1="90.1" y1="302.341" x2="90.1" y2="309.971" stroke="#6c3b12" stroke-width="0.9" />
<line x1="87.5" y1="302.341" x2="92.69999999999999" y2="302.341" stroke="#6c3b12" stroke-width="0.9" />
<line x1="87.5" y1="309.971" x2="92.69999999999999" y2="309.971" stroke="#6c3b12" stroke-width="0.9" />
<line x1="111.69999999999999" y1="303.867" x2="111.69999999999999" y2="308.445" stroke="#6c3b12" stroke-width="0.9" />
<line x1="109.1" y1="303.867" x2="114.29999999999998" y2="303.867" stroke="#6c3b12" stroke-width="0.9" />
<line x1="109.1" y1="308.445" x2="114.29999999999998" y2="308.445" stroke="#6c3b12" stroke-width="0.9" />
<line x1="126.82" y1="330.572" x2="126.82" y2="335.15000000000003" stroke="#6c3b12" stroke-width="0.9" />
<line x1="124.22" y1="330.572" x2="129.42" y2="330.572" stroke="#6c3b12" stroke-width="0.9" />
<line x1="124.22" y1="335.15000000000003" x2="129.42" y2="335.15000000000003" stroke="#6c3b12" stroke-width="0.9" />
<line x1="133.3" y1="354.225" x2="133.3" y2="358.803" stroke="#6c3b12" stroke-width="0.9" />
<line x1="130.70000000000002" y1="354.225" x2="135.9" y2="354.225" stroke="#6c3b12" stroke-width="0.9" />
<line x1="130.70000000000002" y1="358.803" x2="135.9" y2="358.803" stroke="#6c3b12" stroke-width="0.9" />
<line x1="141.94" y1="365.67" x2="141.94" y2="368.72200000000004" stroke="#6c3b12" stroke-width="0.9" />
<line x1="139.34" y1="365.67" x2="144.54" y2="365.67" stroke="#6c3b12" stroke-width="0.9" />
<line x1="139.34" y1="368.72200000000004" x2="144.54" y2="368.72200000000004" stroke="#6c3b12" stroke-width="0.9" />
<circle cx="68.50" cy="302.34" r="2.3" fill="#6c3b12"/>
<circle cx="90.10" cy="306.16" r="2.3" fill="#6c3b12"/>
<circle cx="111.70" cy="306.16" r="2.3" fill="#6c3b12"/>
<circle cx="126.82" cy="332.86" r="2.3" fill="#6c3b12"/>
<circle cx="133.30" cy="356.51" r="2.3" fill="#6c3b12"/>
<circle cx="141.94" cy="367.20" r="2.3" fill="#6c3b12"/>
<circle cx="148.42" cy="369.49" r="2.3" fill="#6c3b12"/>
<circle cx="154.90" cy="369.49" r="2.3" fill="#6c3b12"/>
<circle cx="163.54" cy="371.01" r="2.3" fill="#6c3b12"/>
<circle cx="170.02" cy="371.01" r="2.3" fill="#6c3b12"/>
<circle cx="173.91" cy="371.01" r="2.3" fill="#6c3b12"/>
<circle cx="176.50" cy="371.01" r="2.3" fill="#6c3b12"/>
<circle cx="191.62" cy="371.77" r="2.3" fill="#6c3b12"/>
<circle cx="198.10" cy="372.54" r="2.3" fill="#6c3b12"/>
<line x1="68.5" y1="300.815" x2="68.5" y2="305.39300000000003" stroke="#f28e10" stroke-width="0.9" />
<line x1="65.9" y1="300.815" x2="71.1" y2="300.815" stroke="#f28e10" stroke-width="0.9" />
<line x1="65.9" y1="305.39300000000003" x2="71.1" y2="305.39300000000003" stroke="#f28e10" stroke-width="0.9" />
<line x1="90.1" y1="300.052" x2="90.1" y2="318.36400000000003" stroke="#f28e10" stroke-width="0.9" />
<line x1="87.5" y1="300.052" x2="92.69999999999999" y2="300.052" stroke="#f28e10" stroke-width="0.9" />
<line x1="87.5" y1="318.36400000000003" x2="92.69999999999999" y2="318.36400000000003" stroke="#f28e10" stroke-width="0.9" />
<line x1="111.69999999999999" y1="312.26" x2="111.69999999999999" y2="318.36400000000003" stroke="#f28e10" stroke-width="0.9" />
<line x1="109.1" y1="312.26" x2="114.29999999999998" y2="312.26" stroke="#f28e10" stroke-width="0.9" />
<line x1="109.1" y1="318.36400000000003" x2="114.29999999999998" y2="318.36400000000003" stroke="#f28e10" stroke-width="0.9" />
<line x1="126.82" y1="324.468" x2="126.82" y2="330.572" stroke="#f28e10" stroke-width="0.9" />
<line x1="124.22" y1="324.468" x2="129.42" y2="324.468" stroke="#f28e10" stroke-width="0.9" />
<line x1="124.22" y1="330.572" x2="129.42" y2="330.572" stroke="#f28e10" stroke-width="0.9" />
<line x1="133.3" y1="347.358" x2="133.3" y2="353.462" stroke="#f28e10" stroke-width="0.9" />
<line x1="130.70000000000002" y1="347.358" x2="135.9" y2="347.358" stroke="#f28e10" stroke-width="0.9" />
<line x1="130.70000000000002" y1="353.462" x2="135.9" y2="353.462" stroke="#f28e10" stroke-width="0.9" />
<circle cx="68.50" cy="303.10" r="2.3" fill="#f28e10"/>
<circle cx="90.10" cy="309.21" r="2.3" fill="#f28e10"/>
<circle cx="111.70" cy="315.31" r="2.3" fill="#f28e10"/>
<circle cx="126.82" cy="327.52" r="2.3" fill="#f28e10"/>
<circle cx="133.30" cy="350.41" r="2.3" fill="#f28e10"/>
<circle cx="141.94" cy="365.67" r="2.3" fill="#f28e10"/>
<circle cx="148.42" cy="367.96" r="2.3" fill="#f28e10"/>
<circle cx="154.90" cy="367.96" r="2.3" fill="#f28e10"/>
<circle cx="163.54" cy="370.25" r="2.3" fill="#f28e10"/>
<circle cx="170.02" cy="369.49" r="2.3" fill="#f28e10"/>
<circle cx="173.91" cy="369.49" r="2.3" fill="#f28e10"/>
<circle cx="176.50" cy="369.49" r="2.3" fill="#f28e10"/>
<circle cx="191.62" cy="371.77" r="2.3" fill="#f28e10"/>
<circle cx="198.10" cy="372.54" r="2.3" fill="#f28e10"/>
<line x1="68.5" y1="299.289" x2="68.5" y2="303.867" stroke="#fac015" stroke-width="0.9" />
<line x1="65.9" y1="299.289" x2="71.1" y2="299.289" stroke="#fac015" stroke-width="0.9" />
<line x1="65.9" y1="303.867" x2="71.1" y2="303.867" stroke="#fac015" stroke-width="0.9" />
<line x1="90.1" y1="299.289" x2="90.1" y2="306.919" stroke="#fac015" stroke-width="0.9" />
<line x1="87.5" y1="299.289" x2="92.69999999999999" y2="299.289" stroke="#fac015" stroke-width="0.9" />
<line x1="87.5" y1="306.919" x2="92.69999999999999" y2="306.919" stroke="#fac015" stroke-width="0.9" />
<line x1="111.69999999999999" y1="308.445" x2="111.69999999999999" y2="316.075" stroke="#fac015" stroke-width="0.9" />
<line x1="109.1" y1="308.445" x2="114.29999999999998" y2="308.445" stroke="#fac015" stroke-width="0.9" />
<line x1="109.1" y1="316.075" x2="114.29999999999998" y2="316.075" stroke="#fac015" stroke-width="0.9" />
<line x1="126.82" y1="321.0345" x2="126.82" y2="327.1385" stroke="#fac015" stroke-width="0.9" />
<line x1="124.22" y1="321.0345" x2="129.42" y2="321.0345" stroke="#fac015" stroke-width="0.9" />
<line x1="124.22" y1="327.1385" x2="129.42" y2="327.1385" stroke="#fac015" stroke-width="0.9" />
<line x1="133.3" y1="343.543" x2="133.3" y2="349.647" stroke="#fac015" stroke-width="0.9" />
<line x1="130.70000000000002" y1="343.543" x2="135.9" y2="343.543" stroke="#fac015" stroke-width="0.9" />
<line x1="130.70000000000002" y1="349.647" x2="135.9" y2="349.647" stroke="#fac015" stroke-width="0.9" />
<line x1="141.94" y1="363.38100000000003" x2="141.94" y2="366.433" stroke="#fac015" stroke-width="0.9" />
<line x1="139.34" y1="363.38100000000003" x2="144.54" y2="363.38100000000003" stroke="#fac015" stroke-width="0.9" />
<line x1="139.34" y1="366.433" x2="144.54" y2="366.433" stroke="#fac015" stroke-width="0.9" />
<line x1="148.42" y1="366.433" x2="148.42" y2="369.485" stroke="#fac015" stroke-width="0.9" />
<line x1="145.82" y1="366.433" x2="151.01999999999998" y2="366.433" stroke="#fac015" stroke-width="0.9" />
<line x1="145.82" y1="369.485" x2="151.01999999999998" y2="369.485" stroke="#fac015" stroke-width="0.9" />
<circle cx="68.50" cy="301.58" r="2.3" fill="#fac015"/>
<circle cx="90.10" cy="303.10" r="2.3" fill="#fac015"/>
<circle cx="111.70" cy="312.26" r="2.3" fill="#fac015"/>
<circle cx="126.82" cy="324.09" r="2.3" fill="#fac015"/>
<circle cx="133.30" cy="346.60" r="2.3" fill="#fac015"/>
<circle cx="141.94" cy="364.91" r="2.3" fill="#fac015"/>
<circle cx="148.42" cy="367.96" r="2.3" fill="#fac015"/>
<circle cx="154.90" cy="367.96" r="2.3" fill="#fac015"/>
<circle cx="163.54" cy="370.25" r="2.3" fill="#fac015"/>
<circle cx="170.02" cy="369.49" r="2.3" fill="#fac015"/>
<circle cx="173.91" cy="369.49" r="2.3" fill="#fac015"/>
<circle cx="176.50" cy="369.49" r="2.3" fill="#fac015"/>
<circle cx="191.62" cy="371.01" r="2.3" fill="#fac015"/>
<circle cx="198.10" cy="372.54" r="2.3" fill="#fac015"/>
<line x1="68.5" y1="290.896" x2="68.5" y2="298.526" stroke="#3daa3a" stroke-width="0.9" />
<line x1="65.9" y1="290.896" x2="71.1" y2="290.896" stroke="#3daa3a" stroke-width="0.9" />
<line x1="65.9" y1="298.526" x2="71.1" y2="298.526" stroke="#3daa3a" stroke-width="0.9" />
<line x1="90.1" y1="283.64750000000004" x2="90.1" y2="295.8555" stroke="#3daa3a" stroke-width="0.9" />
<line x1="87.5" y1="283.64750000000004" x2="92.69999999999999" y2="283.64750000000004" stroke="#3daa3a" stroke-width="0.9" />
<line x1="87.5" y1="295.8555" x2="92.69999999999999" y2="295.8555" stroke="#3daa3a" stroke-width="0.9" />
<line x1="111.69999999999999" y1="298.2208" x2="111.69999999999999" y2="305.8508" stroke="#3daa3a" stroke-width="0.9" />
<line x1="109.1" y1="298.2208" x2="114.29999999999998" y2="298.2208" stroke="#3daa3a" stroke-width="0.9" />
<line x1="109.1" y1="305.8508" x2="114.29999999999998" y2="305.8508" stroke="#3daa3a" stroke-width="0.9" />
<line x1="126.82" y1="289.37" x2="126.82" y2="301.57800000000003" stroke="#3daa3a" stroke-width="0.9" />
<line x1="124.22" y1="289.37" x2="129.42" y2="289.37" stroke="#3daa3a" stroke-width="0.9" />
<line x1="124.22" y1="301.57800000000003" x2="129.42" y2="301.57800000000003" stroke="#3daa3a" stroke-width="0.9" />
<line x1="133.3" y1="293.185" x2="133.3" y2="297.76300000000003" stroke="#3daa3a" stroke-width="0.9" />
<line x1="130.70000000000002" y1="293.185" x2="135.9" y2="293.185" stroke="#3daa3a" stroke-width="0.9" />
<line x1="130.70000000000002" y1="297.76300000000003" x2="135.9" y2="297.76300000000003" stroke="#3daa3a" stroke-width="0.9" />
<line x1="141.94" y1="291.3538" x2="141.94" y2="306.6138" stroke="#3daa3a" stroke-width="0.9" />
<line x1="139.34" y1="291.3538" x2="144.54" y2="291.3538" stroke="#3daa3a" stroke-width="0.9" />
<line x1="139.34" y1="306.6138" x2="144.54" y2="306.6138" stroke="#3daa3a" stroke-width="0.9" />
<line x1="148.42" y1="328.283" x2="148.42" y2="337.439" stroke="#3daa3a" stroke-width="0.9" />
<line x1="145.82" y1="328.283" x2="151.01999999999998" y2="328.283" stroke="#3daa3a" stroke-width="0.9" />
<line x1="145.82" y1="337.439" x2="151.01999999999998" y2="337.439" stroke="#3daa3a" stroke-width="0.9" />
<line x1="154.9" y1="340.491" x2="154.9" y2="345.069" stroke="#3daa3a" stroke-width="0.9" />
<line x1="152.3" y1="340.491" x2="157.5" y2="340.491" stroke="#3daa3a" stroke-width="0.9" />
<line x1="152.3" y1="345.069" x2="157.5" y2="345.069" stroke="#3daa3a" stroke-width="0.9" />
<line x1="163.54" y1="321.416" x2="163.54" y2="342.78000000000003" stroke="#3daa3a" stroke-width="0.9" />
<line x1="160.94" y1="321.416" x2="166.14" y2="321.416" stroke="#3daa3a" stroke-width="0.9" />
<line x1="160.94" y1="342.78000000000003" x2="166.14" y2="342.78000000000003" stroke="#3daa3a" stroke-width="0.9" />
<line x1="170.02" y1="350.7152" x2="170.02" y2="356.8192" stroke="#3daa3a" stroke-width="0.9" />
<line x1="167.42000000000002" y1="350.7152" x2="172.62" y2="350.7152" stroke="#3daa3a" stroke-width="0.9" />
<line x1="167.42000000000002" y1="356.8192" x2="172.62" y2="356.8192" stroke="#3daa3a" stroke-width="0.9" />
<line x1="173.908" y1="343.2378" x2="173.908" y2="352.3938" stroke="#3daa3a" stroke-width="0.9" />
<line x1="171.308" y1="343.2378" x2="176.50799999999998" y2="343.2378" stroke="#3daa3a" stroke-width="0.9" />
<line x1="171.308" y1="352.3938" x2="176.50799999999998" y2="352.3938" stroke="#3daa3a" stroke-width="0.9" />
<line x1="176.5" y1="347.1291" x2="176.5" y2="351.7071" stroke="#3daa3a" stroke-width="0.9" />
<line x1="173.9" y1="347.1291" x2="179.1" y2="347.1291" stroke="#3daa3a" stroke-width="0.9" />
<line x1="173.9" y1="351.7071" x2="179.1" y2="351.7071" stroke="#3daa3a" stroke-width="0.9" />
<circle cx="68.50" cy="294.71" r="2.3" fill="#3daa3a"/>
<circle cx="90.10" cy="289.75" r="2.3" fill="#3daa3a"/>
<circle cx="111.70" cy="302.04" r="2.3" fill="#3daa3a"/>
<circle cx="126.82" cy="295.47" r="2.3" fill="#3daa3a"/>
<circle cx="133.30" cy="295.47" r="2.3" fill="#3daa3a"/>
<circle cx="141.94" cy="298.98" r="2.3" fill="#3daa3a"/>
<circle cx="148.42" cy="332.86" r="2.3" fill="#3daa3a"/>
<circle cx="154.90" cy="342.78" r="2.3" fill="#3daa3a"/>
<circle cx="163.54" cy="332.10" r="2.3" fill="#3daa3a"/>
<circle cx="170.02" cy="353.77" r="2.3" fill="#3daa3a"/>
<circle cx="173.91" cy="347.82" r="2.3" fill="#3daa3a"/>
<circle cx="176.50" cy="349.42" r="2.3" fill="#3daa3a"/>
<circle cx="191.62" cy="350.56" r="2.3" fill="#3daa3a"/>
<circle cx="198.10" cy="359.57" r="2.3" fill="#3daa3a"/>
<line x1="68.5" y1="291.9642" x2="68.5" y2="301.1202" stroke="#1a4f8e" stroke-width="0.9" />
<line x1="65.9" y1="291.9642" x2="71.1" y2="291.9642" stroke="#1a4f8e" stroke-width="0.9" />
<line x1="65.9" y1="301.1202" x2="71.1" y2="301.1202" stroke="#1a4f8e" stroke-width="0.9" />
<line x1="90.1" y1="288.607" x2="90.1" y2="296.237" stroke="#1a4f8e" stroke-width="0.9" />
<line x1="87.5" y1="288.607" x2="92.69999999999999" y2="288.607" stroke="#1a4f8e" stroke-width="0.9" />
<line x1="87.5" y1="296.237" x2="92.69999999999999" y2="296.237" stroke="#1a4f8e" stroke-width="0.9" />
<line x1="111.69999999999999" y1="280.6718" x2="111.69999999999999" y2="288.3018" stroke="#1a4f8e" stroke-width="0.9" />
<line x1="109.1" y1="280.6718" x2="114.29999999999998" y2="280.6718" stroke="#1a4f8e" stroke-width="0.9" />
<line x1="109.1" y1="288.3018" x2="114.29999999999998" y2="288.3018" stroke="#1a4f8e" stroke-width="0.9" />
<line x1="126.82" y1="276.0938" x2="126.82" y2="288.3018" stroke="#1a4f8e" stroke-width="0.9" />
<line x1="124.22" y1="276.0938" x2="129.42" y2="276.0938" stroke="#1a4f8e" stroke-width="0.9" />
<line x1="124.22" y1="288.3018" x2="129.42" y2="288.3018" stroke="#1a4f8e" stroke-width="0.9" />
<line x1="133.3" y1="278.9169" x2="133.3" y2="286.5469" stroke="#1a4f8e" stroke-width="0.9" />
<line x1="130.70000000000002" y1="278.9169" x2="135.9" y2="278.9169" stroke="#1a4f8e" stroke-width="0.9" />
<line x1="130.70000000000002" y1="286.5469" x2="135.9" y2="286.5469" stroke="#1a4f8e" stroke-width="0.9" />
<line x1="141.94" y1="280.4429" x2="141.94" y2="285.0209" stroke="#1a4f8e" stroke-width="0.9" />
<line x1="139.34" y1="280.4429" x2="144.54" y2="280.4429" stroke="#1a4f8e" stroke-width="0.9" />
<line x1="139.34" y1="285.0209" x2="144.54" y2="285.0209" stroke="#1a4f8e" stroke-width="0.9" />
<line x1="148.42" y1="311.1918" x2="148.42" y2="323.3998" stroke="#1a4f8e" stroke-width="0.9" />
<line x1="145.82" y1="311.1918" x2="151.01999999999998" y2="311.1918" stroke="#1a4f8e" stroke-width="0.9" />
<line x1="145.82" y1="323.3998" x2="151.01999999999998" y2="323.3998" stroke="#1a4f8e" stroke-width="0.9" />
<line x1="154.9" y1="338.202" x2="154.9" y2="348.884" stroke="#1a4f8e" stroke-width="0.9" />
<line x1="152.3" y1="338.202" x2="157.5" y2="338.202" stroke="#1a4f8e" stroke-width="0.9" />
<line x1="152.3" y1="348.884" x2="157.5" y2="348.884" stroke="#1a4f8e" stroke-width="0.9" />
<line x1="163.54" y1="341.63550000000004" x2="163.54" y2="349.26550000000003" stroke="#1a4f8e" stroke-width="0.9" />
<line x1="160.94" y1="341.63550000000004" x2="166.14" y2="341.63550000000004" stroke="#1a4f8e" stroke-width="0.9" />
<line x1="160.94" y1="349.26550000000003" x2="166.14" y2="349.26550000000003" stroke="#1a4f8e" stroke-width="0.9" />
<line x1="170.02" y1="358.1926" x2="170.02" y2="361.2446" stroke="#1a4f8e" stroke-width="0.9" />
<line x1="167.42000000000002" y1="358.1926" x2="172.62" y2="358.1926" stroke="#1a4f8e" stroke-width="0.9" />
<line x1="167.42000000000002" y1="361.2446" x2="172.62" y2="361.2446" stroke="#1a4f8e" stroke-width="0.9" />
<line x1="173.908" y1="354.37760000000003" x2="173.908" y2="358.9556" stroke="#1a4f8e" stroke-width="0.9" />
<line x1="171.308" y1="354.37760000000003" x2="176.50799999999998" y2="354.37760000000003" stroke="#1a4f8e" stroke-width="0.9" />
<line x1="171.308" y1="358.9556" x2="176.50799999999998" y2="358.9556" stroke="#1a4f8e" stroke-width="0.9" />
<circle cx="68.50" cy="296.54" r="2.3" fill="#1a4f8e"/>
<circle cx="90.10" cy="292.42" r="2.3" fill="#1a4f8e"/>
<circle cx="111.70" cy="284.49" r="2.3" fill="#1a4f8e"/>
<circle cx="126.82" cy="282.20" r="2.3" fill="#1a4f8e"/>
<circle cx="133.30" cy="282.73" r="2.3" fill="#1a4f8e"/>
<circle cx="141.94" cy="282.73" r="2.3" fill="#1a4f8e"/>
<circle cx="148.42" cy="317.30" r="2.3" fill="#1a4f8e"/>
<circle cx="154.90" cy="343.54" r="2.3" fill="#1a4f8e"/>
<circle cx="163.54" cy="345.45" r="2.3" fill="#1a4f8e"/>
<circle cx="170.02" cy="359.72" r="2.3" fill="#1a4f8e"/>
<circle cx="173.91" cy="356.67" r="2.3" fill="#1a4f8e"/>
<circle cx="176.50" cy="364.60" r="2.3" fill="#1a4f8e"/>
<circle cx="191.62" cy="365.44" r="2.3" fill="#1a4f8e"/>
<circle cx="198.10" cy="369.33" r="2.3" fill="#1a4f8e"/>
<line x1="279.4" y1="254.5" x2="279.4" y2="374" stroke="#262626" stroke-width="1.3" />
<line x1="276.1" y1="373.4" x2="360.5" y2="373.4" stroke="#262626" stroke-width="1.3" />
<line x1="276.1" y1="373.4" x2="279.4" y2="373.4" stroke="#262626" stroke-width="1.2" />
<text x="272.3" y="376.5" font-size="8.7" text-anchor="end" textLength="16.6" lengthAdjust="spacingAndGlyphs" stroke="#1c1c1c" stroke-width="0.18" >0.00</text>
<line x1="276.1" y1="335.04999999999995" x2="279.4" y2="335.04999999999995" stroke="#262626" stroke-width="1.2" />
<text x="272.3" y="338.15" font-size="8.7" text-anchor="end" textLength="16.6" lengthAdjust="spacingAndGlyphs" stroke="#1c1c1c" stroke-width="0.18" >0.05</text>
<line x1="276.1" y1="296.7" x2="279.4" y2="296.7" stroke="#262626" stroke-width="1.2" />
<text x="272.3" y="299.8" font-size="8.7" text-anchor="end" textLength="16.6" lengthAdjust="spacingAndGlyphs" stroke="#1c1c1c" stroke-width="0.18" >0.10</text>
<line x1="276.1" y1="258.34999999999997" x2="279.4" y2="258.34999999999997" stroke="#262626" stroke-width="1.2" />
<text x="272.3" y="261.45" font-size="8.7" text-anchor="end" textLength="16.6" lengthAdjust="spacingAndGlyphs" stroke="#1c1c1c" stroke-width="0.18" >0.15</text>
<text font-size="10" text-anchor="middle" textLength="35" lengthAdjust="spacingAndGlyphs" transform="translate(249.6 315.5) rotate(-90)" stroke="#1c1c1c" stroke-width="0.3">IC50 (µM)</text>
<line x1="287.95" y1="311.0429" x2="287.95" y2="321.7809" stroke="#1a4f8e" stroke-width="1.1" />
<line x1="285.15" y1="311.0429" x2="290.75" y2="311.0429" stroke="#1a4f8e" stroke-width="1.1" />
<rect x="283.9" y="321.7809" width="8.1" height="51.219100000000005" fill="#1a4f8e" />
<line x1="300.45" y1="299.5379" x2="300.45" y2="321.7809" stroke="#3daa3a" stroke-width="1.1" />
<line x1="297.65" y1="299.5379" x2="303.25" y2="299.5379" stroke="#3daa3a" stroke-width="1.1" />
<rect x="296.4" y="321.7809" width="8.1" height="51.219100000000005" fill="#3daa3a" />
<line x1="313.25" y1="365.8834" x2="313.25" y2="368.4145" stroke="#fac015" stroke-width="1.1" />
<line x1="310.45" y1="365.8834" x2="316.05" y2="365.8834" stroke="#fac015" stroke-width="1.1" />
<rect x="309.2" y="368.4145" width="8.1" height="4.5855000000000015" fill="#fac015" />
<line x1="326.05" y1="365.3465" x2="326.05" y2="368.4145" stroke="#f28e10" stroke-width="1.1" />
<line x1="323.25" y1="365.3465" x2="328.85" y2="365.3465" stroke="#f28e10" stroke-width="1.1" />
<rect x="322.0" y="368.4145" width="8.1" height="4.5855000000000015" fill="#f28e10" />
<line x1="338.95" y1="369.7951" x2="338.95" y2="371.099" stroke="#c50f2e" stroke-width="1.1" />
<line x1="336.15" y1="369.7951" x2="341.75" y2="369.7951" stroke="#c50f2e" stroke-width="1.1" />
<rect x="334.9" y="371.099" width="8.1" height="1.9009999999999878" fill="#c50f2e" />
<line x1="351.75" y1="367.80089999999996" x2="351.75" y2="369.10479999999995" stroke="#6c3b12" stroke-width="1.1" />
<line x1="348.95" y1="367.80089999999996" x2="354.55" y2="367.80089999999996" stroke="#6c3b12" stroke-width="1.1" />
<rect x="347.7" y="369.10479999999995" width="8.1" height="3.8952000000000226" fill="#6c3b12" />
<path d="M286.3 292.2 V289.8 H300 V292.2" fill="none" stroke="#222" stroke-width="1.2" stroke-linejoin="round" stroke-linecap="round"/>
<text x="293.5" y="287.3" font-size="8.7" text-anchor="middle" textLength="22" lengthAdjust="spacingAndGlyphs" stroke="#1c1c1c" stroke-width="0.18" >&gt;0.99</text>
<path d="M286.3 277.0 V274.6 H313 V277.0" fill="none" stroke="#222" stroke-width="1.2" stroke-linejoin="round" stroke-linecap="round"/>
<text x="300" y="271.3" font-size="8.7" text-anchor="middle" textLength="22.3" lengthAdjust="spacingAndGlyphs" stroke="#1c1c1c" stroke-width="0.18" >0.018</text>
<path d="M286.3 262.0 V259.6 H325.5 V262.0" fill="none" stroke="#222" stroke-width="1.2" stroke-linejoin="round" stroke-linecap="round"/>
<text x="306.3" y="256.3" font-size="8.7" text-anchor="middle" textLength="22.3" lengthAdjust="spacingAndGlyphs" stroke="#1c1c1c" stroke-width="0.18" >0.018</text>
<path d="M286.3 244.70000000000002 V242.3 H339.3 V244.70000000000002" fill="none" stroke="#222" stroke-width="1.2" stroke-linejoin="round" stroke-linecap="round"/>
<text x="313" y="239.3" font-size="8.7" text-anchor="middle" textLength="22.3" lengthAdjust="spacingAndGlyphs" stroke="#1c1c1c" stroke-width="0.18" >0.012</text>
<path d="M286.3 227.70000000000002 V225.3 H351.3 V227.70000000000002" fill="none" stroke="#222" stroke-width="1.2" stroke-linejoin="round" stroke-linecap="round"/>
<text x="318.8" y="222" font-size="8.7" text-anchor="middle" textLength="22" lengthAdjust="spacingAndGlyphs" stroke="#1c1c1c" stroke-width="0.18" >0.016</text>
<line x1="363.8" y1="273" x2="383.8" y2="273" stroke="#1a4f8e" stroke-width="1.1" />
<circle cx="373.8" cy="273" r="3" fill="#1a4f8e"/>
<text x="387.5" y="276" font-size="8.7" textLength="25.5" lengthAdjust="spacingAndGlyphs" stroke="#1c1c1c" stroke-width="0.18" >Control</text>
<line x1="363.8" y1="285" x2="383.8" y2="285" stroke="#3daa3a" stroke-width="1.1" />
<circle cx="373.8" cy="285" r="3" fill="#3daa3a"/>
<text x="387.5" y="288" font-size="8.7" textLength="33.5" lengthAdjust="spacingAndGlyphs" stroke="#1c1c1c" stroke-width="0.18" ><tspan font-style="italic">TP53</tspan> null</text>
<line x1="363.8" y1="297.5" x2="383.8" y2="297.5" stroke="#fac015" stroke-width="1.1" />
<circle cx="373.8" cy="297.5" r="3" fill="#fac015"/>
<text x="387.5" y="300.5" font-size="8.7" textLength="77.5" lengthAdjust="spacingAndGlyphs" stroke="#1c1c1c" stroke-width="0.18" >33% <tspan font-style="italic">NAMPT</tspan> Clone 1</text>
<line x1="363.8" y1="310" x2="383.8" y2="310" stroke="#f28e10" stroke-width="1.1" />
<circle cx="373.8" cy="310" r="3" fill="#f28e10"/>
<text x="387.5" y="313" font-size="8.7" textLength="77.5" lengthAdjust="spacingAndGlyphs" stroke="#1c1c1c" stroke-width="0.18" >33% <tspan font-style="italic">NAMPT</tspan> Clone 2</text>
<line x1="363.8" y1="322.5" x2="383.8" y2="322.5" stroke="#c50f2e" stroke-width="1.1" />
<circle cx="373.8" cy="322.5" r="3" fill="#c50f2e"/>
<text x="387.5" y="325.5" font-size="8.7" textLength="52.6" lengthAdjust="spacingAndGlyphs" stroke="#1c1c1c" stroke-width="0.18" >33% <tspan font-style="italic">NAMPT</tspan>+</text>
<line x1="363.8" y1="345.3" x2="383.8" y2="345.3" stroke="#6c3b12" stroke-width="1.1" />
<circle cx="373.8" cy="345.3" r="3" fill="#6c3b12"/>
<text x="387.5" y="348.3" font-size="8.7" textLength="52.6" lengthAdjust="spacingAndGlyphs" stroke="#1c1c1c" stroke-width="0.18" >33% <tspan font-style="italic">NAMPT</tspan>+</text>
<text x="387.5" y="335.3" font-size="8.7" textLength="63.6" lengthAdjust="spacingAndGlyphs" stroke="#1c1c1c" stroke-width="0.18" ><tspan font-style="italic">TP53</tspan> null Clone 1</text>
<text x="387.5" y="357.3" font-size="8.7" textLength="63.6" lengthAdjust="spacingAndGlyphs" stroke="#1c1c1c" stroke-width="0.18" ><tspan font-style="italic">TP53</tspan> null Clone 2</text>
<text x="8" y="433.3" font-size="11.5" font-weight="bold" fill="#000" >D</text>
<text x="113.8" y="460.5" font-size="8.7" textLength="62.4" lengthAdjust="spacingAndGlyphs" stroke="#1c1c1c" stroke-width="0.18" ><tspan font-style="italic">TP53</tspan> null Clone 1</text>
<text x="113.8" y="472.5" font-size="8.7" textLength="62.4" lengthAdjust="spacingAndGlyphs" stroke="#1c1c1c" stroke-width="0.18" ><tspan font-style="italic">TP53</tspan> null Clone 2</text>
<rect x="47.2" y="423.0" width="6.6" height="6.6" fill="#1a4f8e" />
<text x="57.5" y="429.3" font-size="8.7" textLength="25.5" lengthAdjust="spacingAndGlyphs" stroke="#1c1c1c" stroke-width="0.18" >Control</text>
<rect x="47.2" y="435.7" width="6.6" height="6.6" fill="#3daa3a" />
<text x="57.5" y="442" font-size="8.7" textLength="33.3" lengthAdjust="spacingAndGlyphs" stroke="#1c1c1c" stroke-width="0.18" ><tspan font-style="italic">TP53</tspan> null</text>
<rect x="100.8" y="423.0" width="6.6" height="6.6" fill="#fac015" />
<text x="110.5" y="429.3" font-size="8.7" textLength="78" lengthAdjust="spacingAndGlyphs" stroke="#1c1c1c" stroke-width="0.18" >33% <tspan font-style="italic">NAMPT</tspan> Clone 1</text>
<rect x="100.8" y="435.7" width="6.6" height="6.6" fill="#f28e10" />
<text x="110.5" y="442" font-size="8.7" textLength="78" lengthAdjust="spacingAndGlyphs" stroke="#1c1c1c" stroke-width="0.18" >33% <tspan font-style="italic">NAMPT</tspan> Clone 2</text>
<rect x="47.2" y="454.2" width="6.6" height="6.6" fill="#c50f2e" />
<text x="57.5" y="460.5" font-size="8.7" textLength="52.7" lengthAdjust="spacingAndGlyphs" stroke="#1c1c1c" stroke-width="0.18" >33% <tspan font-style="italic">NAMPT</tspan>+</text>
<rect x="47.2" y="466.2" width="6.6" height="6.6" fill="#6c3b12" />
<text x="57.5" y="472.5" font-size="8.7" textLength="52.7" lengthAdjust="spacingAndGlyphs" stroke="#1c1c1c" stroke-width="0.18" >33% <tspan font-style="italic">NAMPT</tspan>+</text>
<text x="118.8" y="493.8" font-size="10.4" textLength="49.3" lengthAdjust="spacingAndGlyphs" stroke="#1c1c1c" stroke-width="0.18" >OCI-AML3</text>
<line x1="47.4" y1="521.2" x2="47.4" y2="639" stroke="#262626" stroke-width="1.3" />
<line x1="43.8" y1="638.4" x2="116.3" y2="638.4" stroke="#262626" stroke-width="1.3" />
<line x1="43.8" y1="638.4" x2="47.4" y2="638.4" stroke="#262626" stroke-width="1.2" />
<text x="40.5" y="641.5" font-size="8.7" text-anchor="end" stroke="#1c1c1c" stroke-width="0.18" >0</text>
<line x1="43.8" y1="609.6999999999999" x2="47.4" y2="609.6999999999999" stroke="#262626" stroke-width="1.2" />
<text x="40.5" y="612.8" font-size="8.7" text-anchor="end" stroke="#1c1c1c" stroke-width="0.18" >1</text>
<line x1="43.8" y1="581.0" x2="47.4" y2="581.0" stroke="#262626" stroke-width="1.2" />
<text x="40.5" y="584.1" font-size="8.7" text-anchor="end" stroke="#1c1c1c" stroke-width="0.18" >2</text>
<line x1="43.8" y1="552.3" x2="47.4" y2="552.3" stroke="#262626" stroke-width="1.2" />
<text x="40.5" y="555.4" font-size="8.7" text-anchor="end" stroke="#1c1c1c" stroke-width="0.18" >3</text>
<line x1="43.8" y1="523.6" x2="47.4" y2="523.6" stroke="#262626" stroke-width="1.2" />
<text x="40.5" y="526.7" font-size="8.7" text-anchor="end" stroke="#1c1c1c" stroke-width="0.18" >4</text>
<text font-size="9.8" text-anchor="middle" textLength="67.8" lengthAdjust="spacingAndGlyphs" transform="translate(16.4 581) rotate(-90)" stroke="#1c1c1c" stroke-width="0.3">Normalized apoptotic</text>
<text font-size="9.8" text-anchor="middle" textLength="71.6" lengthAdjust="spacingAndGlyphs" transform="translate(28.8 580.8) rotate(-90)" stroke="#1c1c1c" stroke-width="0.3">(annexinV+ 7AAD– %)</text>
<line x1="54.35" y1="617.449" x2="54.35" y2="620.893" stroke="#1a4f8e" stroke-width="1.1" />
<line x1="51.550000000000004" y1="617.449" x2="57.15" y2="617.449" stroke="#1a4f8e" stroke-width="1.1" />
<rect x="50.7" y="620.893" width="7.3" height="17.10699999999995" fill="#1a4f8e" />
<line x1="65.35000000000001" y1="615.153" x2="65.35000000000001" y2="618.884" stroke="#3daa3a" stroke-width="1.1" />
<line x1="62.55000000000001" y1="615.153" x2="68.15" y2="615.153" stroke="#3daa3a" stroke-width="1.1" />
<rect x="61.7" y="618.884" width="7.3" height="19.115999999999964" fill="#3daa3a" />
<line x1="76.15" y1="560.91" x2="76.15" y2="571.529" stroke="#fac015" stroke-width="1.1" />
<line x1="73.35000000000001" y1="560.91" x2="78.95" y2="560.91" stroke="#fac015" stroke-width="1.1" />
<rect x="72.5" y="571.529" width="7.3" height="66.47099999999998" fill="#fac015" />
<line x1="87.05000000000001" y1="546.273" x2="87.05000000000001" y2="557.179" stroke="#f28e10" stroke-width="1.1" />
<line x1="84.25000000000001" y1="546.273" x2="89.85000000000001" y2="546.273" stroke="#f28e10" stroke-width="1.1" />
<rect x="83.4" y="557.179" width="7.3" height="80.821" fill="#f28e10" />
<line x1="97.85000000000001" y1="550.004" x2="97.85000000000001" y2="565.215" stroke="#c50f2e" stroke-width="1.1" />
<line x1="95.05000000000001" y1="550.004" x2="100.65" y2="550.004" stroke="#c50f2e" stroke-width="1.1" />
<rect x="94.2" y="565.215" width="7.3" height="72.78499999999994" fill="#c50f2e" />
<line x1="108.75" y1="570.0939999999999" x2="108.75" y2="570.9549999999999" stroke="#6c3b12" stroke-width="1.1" />
<line x1="105.95" y1="570.0939999999999" x2="111.55" y2="570.0939999999999" stroke="#6c3b12" stroke-width="1.1" />
<rect x="105.1" y="570.9549999999999" width="7.3" height="67.04500000000004" fill="#6c3b12" />
<path d="M54.5 575.6999999999999 V573.3 H65.5 V575.6999999999999" fill="none" stroke="#222" stroke-width="1.2" stroke-linejoin="round" stroke-linecap="round"/>
<text x="59.7" y="570" font-size="8.7" text-anchor="middle" textLength="16.8" lengthAdjust="spacingAndGlyphs" stroke="#1c1c1c" stroke-width="0.18" >0.52</text>
<path d="M54.5 556.4999999999999 V554.0999999999999 H75.5 V556.4999999999999" fill="none" stroke="#222" stroke-width="1.2" stroke-linejoin="round" stroke-linecap="round"/>
<text x="64.4" y="550.8" font-size="8.7" text-anchor="middle" textLength="21.5" lengthAdjust="spacingAndGlyphs" stroke="#1c1c1c" stroke-width="0.18" >0.061</text>
<path d="M54.5 540.6999999999999 V538.3 H86.3 V540.6999999999999" fill="none" stroke="#222" stroke-width="1.2" stroke-linejoin="round" stroke-linecap="round"/>
<text x="70" y="535.5" font-size="8.7" text-anchor="middle" textLength="22.5" lengthAdjust="spacingAndGlyphs" stroke="#1c1c1c" stroke-width="0.18" >0.064</text>
<path d="M54.5 526.4999999999999 V524.0999999999999 H97 V526.4999999999999" fill="none" stroke="#222" stroke-width="1.2" stroke-linejoin="round" stroke-linecap="round"/>
<text x="75.8" y="521.2" font-size="8.7" text-anchor="middle" textLength="22.5" lengthAdjust="spacingAndGlyphs" stroke="#1c1c1c" stroke-width="0.18" >0.166</text>
<path d="M54.5 512.7 V510.3 H108.8 V512.7" fill="none" stroke="#222" stroke-width="1.2" stroke-linejoin="round" stroke-linecap="round"/>
<text x="80.7" y="507" font-size="8.7" text-anchor="middle" textLength="21.3" lengthAdjust="spacingAndGlyphs" stroke="#1c1c1c" stroke-width="0.18" >0.011</text>
<line x1="171.1" y1="521.2" x2="171.1" y2="639.1" stroke="#262626" stroke-width="1.3" />
<line x1="167.6" y1="638.5" x2="240" y2="638.5" stroke="#262626" stroke-width="1.3" />
<line x1="167.6" y1="638.5" x2="171.1" y2="638.5" stroke="#262626" stroke-width="1.2" />
<text x="164.5" y="641.6" font-size="8.7" text-anchor="end" stroke="#1c1c1c" stroke-width="0.18" >0</text>
<line x1="167.6" y1="615.56" x2="171.1" y2="615.56" stroke="#262626" stroke-width="1.2" />
<text x="164.5" y="618.66" font-size="8.7" text-anchor="end" stroke="#1c1c1c" stroke-width="0.18" >2</text>
<line x1="167.6" y1="592.62" x2="171.1" y2="592.62" stroke="#262626" stroke-width="1.2" />
<text x="164.5" y="595.72" font-size="8.7" text-anchor="end" stroke="#1c1c1c" stroke-width="0.18" >4</text>
<line x1="167.6" y1="569.68" x2="171.1" y2="569.68" stroke="#262626" stroke-width="1.2" />
<text x="164.5" y="572.78" font-size="8.7" text-anchor="end" stroke="#1c1c1c" stroke-width="0.18" >6</text>
<line x1="167.6" y1="546.74" x2="171.1" y2="546.74" stroke="#262626" stroke-width="1.2" />
<text x="164.5" y="549.84" font-size="8.7" text-anchor="end" stroke="#1c1c1c" stroke-width="0.18" >8</text>
<line x1="167.6" y1="523.8" x2="171.1" y2="523.8" stroke="#262626" stroke-width="1.2" />
<text x="164.5" y="526.9" font-size="8.7" text-anchor="end" stroke="#1c1c1c" stroke-width="0.18" >10</text>
<text font-size="9.8" text-anchor="middle" textLength="64.2" lengthAdjust="spacingAndGlyphs" transform="translate(136 580.9) rotate(-90)" stroke="#1c1c1c" stroke-width="0.3">Normalized necrotic</text>
<text font-size="9.8" text-anchor="middle" textLength="68.4" lengthAdjust="spacingAndGlyphs" transform="translate(148.3 580.9) rotate(-90)" stroke="#1c1c1c" stroke-width="0.3">(Dual+ or 7AAD+ %)</text>
<line x1="178.7" y1="624.3919" x2="178.7" y2="624.736" stroke="#1a4f8e" stroke-width="1.1" />
<line x1="175.89999999999998" y1="624.3919" x2="181.5" y2="624.3919" stroke="#1a4f8e" stroke-width="1.1" />
<rect x="175.2" y="624.736" width="7.0" height="13.36400000000001" fill="#1a4f8e" />
<line x1="189.3" y1="625.3095" x2="189.3" y2="626.4565" stroke="#3daa3a" stroke-width="1.1" />
<line x1="186.5" y1="625.3095" x2="192.10000000000002" y2="625.3095" stroke="#3daa3a" stroke-width="1.1" />
<rect x="185.8" y="626.4565" width="7.0" height="11.643499999999994" fill="#3daa3a" />
<line x1="200.2" y1="570.1388" x2="200.2" y2="578.1677999999999" stroke="#fac015" stroke-width="1.1" />
<line x1="197.39999999999998" y1="570.1388" x2="203.0" y2="570.1388" stroke="#fac015" stroke-width="1.1" />
<rect x="196.7" y="578.1677999999999" width="7.0" height="59.93220000000006" fill="#fac015" />
<line x1="211.1" y1="544.6754" x2="211.1" y2="564.4038" stroke="#f28e10" stroke-width="1.1" />
<line x1="208.29999999999998" y1="544.6754" x2="213.9" y2="544.6754" stroke="#f28e10" stroke-width="1.1" />
<rect x="207.6" y="564.4038" width="7.0" height="73.69619999999995" fill="#f28e10" />
<line x1="222.2" y1="573.3504" x2="222.2" y2="580.1177" stroke="#c50f2e" stroke-width="1.1" />
<line x1="219.39999999999998" y1="573.3504" x2="225.0" y2="573.3504" stroke="#c50f2e" stroke-width="1.1" />
<rect x="218.7" y="580.1177" width="7.0" height="57.98229999999999" fill="#c50f2e" />
<line x1="233.1" y1="553.3926" x2="233.1" y2="571.4005" stroke="#6c3b12" stroke-width="1.1" />
<line x1="230.29999999999998" y1="553.3926" x2="235.9" y2="553.3926" stroke="#6c3b12" stroke-width="1.1" />
<rect x="229.6" y="571.4005" width="7.0" height="66.69950000000003" fill="#6c3b12" />
<path d="M177.5 583.9999999999999 V581.5999999999999 H188.8 V583.9999999999999" fill="none" stroke="#222" stroke-width="1.2" stroke-linejoin="round" stroke-linecap="round"/>
<text x="183.4" y="578.3" font-size="8.7" text-anchor="middle" textLength="15.8" lengthAdjust="spacingAndGlyphs" stroke="#1c1c1c" stroke-width="0.18" >&gt;.99</text>
<path d="M177.5 560.6999999999999 V558.3 H200 V560.6999999999999" fill="none" stroke="#222" stroke-width="1.2" stroke-linejoin="round" stroke-linecap="round"/>
<text x="189" y="555" font-size="8.7" text-anchor="middle" textLength="22" lengthAdjust="spacingAndGlyphs" stroke="#1c1c1c" stroke-width="0.18" >0.045</text>
<path d="M177.5 543.9999999999999 V541.5999999999999 H211.3 V543.9999999999999" fill="none" stroke="#222" stroke-width="1.2" stroke-linejoin="round" stroke-linecap="round"/>
<text x="194.6" y="538.7" font-size="8.7" text-anchor="middle" textLength="21.8" lengthAdjust="spacingAndGlyphs" stroke="#1c1c1c" stroke-width="0.18" >0.010</text>
<path d="M177.5 528.4999999999999 V526.0999999999999 H222.5 V528.4999999999999" fill="none" stroke="#222" stroke-width="1.2" stroke-linejoin="round" stroke-linecap="round"/>
<text x="200" y="523" font-size="8.7" text-anchor="middle" textLength="22.5" lengthAdjust="spacingAndGlyphs" stroke="#1c1c1c" stroke-width="0.18" >0.060</text>
<path d="M177.5 513.2 V510.8 H233.3 V513.2" fill="none" stroke="#222" stroke-width="1.2" stroke-linejoin="round" stroke-linecap="round"/>
<text x="205.3" y="507.5" font-size="8.7" text-anchor="middle" textLength="22" lengthAdjust="spacingAndGlyphs" stroke="#1c1c1c" stroke-width="0.18" >0.022</text>
<text x="257.5" y="433.3" font-size="11.5" font-weight="bold" fill="#000" >E</text>
<text x="387.4" y="455.6" font-size="10.4" textLength="49" lengthAdjust="spacingAndGlyphs" stroke="#1c1c1c" stroke-width="0.18" >OCI-AML3</text>
<line x1="344.2" y1="520.8" x2="358.2" y2="520.8" stroke="#222" stroke-width="0.9" />
<line x1="362.5" y1="520.8" x2="388.5" y2="520.8" stroke="#222" stroke-width="0.9" />
<line x1="392.6" y1="520.8" x2="419" y2="520.8" stroke="#222" stroke-width="0.9" />
<line x1="423" y1="520.8" x2="449" y2="520.8" stroke="#222" stroke-width="0.9" />
<line x1="453.2" y1="520.8" x2="480.2" y2="520.8" stroke="#222" stroke-width="0.9" />
<text font-size="8.7" textLength="27.4" lengthAdjust="spacingAndGlyphs" stroke="#1c1c1c" stroke-width="0.18" transform="translate(354.5 517.8) rotate(-90)" >Control</text>
<text font-size="8.7" textLength="27.4" lengthAdjust="spacingAndGlyphs" stroke="#1c1c1c" stroke-width="0.18" transform="translate(377.4 517.8) rotate(-90)" >Control</text>
<text font-size="8.7" textLength="15.5" lengthAdjust="spacingAndGlyphs" stroke="#1c1c1c" stroke-width="0.18" transform="translate(403 517.8) rotate(-90)" >33%</text>
<text font-size="8.7" textLength="29.8" lengthAdjust="spacingAndGlyphs" stroke="#1c1c1c" stroke-width="0.18" transform="translate(413.4 517.8) rotate(-90)" ><tspan font-style="italic">NAMPT</tspan></text>
<text font-size="8.7" textLength="20.8" lengthAdjust="spacingAndGlyphs" stroke="#1c1c1c" stroke-width="0.18" transform="translate(433.5 517.8) rotate(-90)" ><tspan font-style="italic">TP53</tspan></text>
<text font-size="8.7" textLength="12.5" lengthAdjust="spacingAndGlyphs" stroke="#1c1c1c" stroke-width="0.18" transform="translate(443.8 517.8) rotate(-90)" >null</text>
<text font-size="8.7" textLength="50.5" lengthAdjust="spacingAndGlyphs" stroke="#1c1c1c" stroke-width="0.18" transform="translate(463.6 517.8) rotate(-90)" >33% <tspan font-style="italic">NAMPT</tspan></text>
<text font-size="8.7" textLength="43.2" lengthAdjust="spacingAndGlyphs" stroke="#1c1c1c" stroke-width="0.18" transform="translate(476 517.8) rotate(-90)" >+ <tspan font-style="italic">TP53</tspan> null</text>
<text x="336.3" y="532" font-size="8.7" text-anchor="end" textLength="36.8" lengthAdjust="spacingAndGlyphs" stroke="#1c1c1c" stroke-width="0.18" >KPT-9274</text>
<text x="336.3" y="545.5" font-size="8.7" text-anchor="end" textLength="51.8" lengthAdjust="spacingAndGlyphs" stroke="#1c1c1c" stroke-width="0.18" >Staurosporine</text>
<line x1="347.7" y1="529.5" x2="351.7" y2="529.5" stroke="#222" stroke-width="0.8" />
<line x1="364" y1="529.5" x2="368" y2="529.5" stroke="#222" stroke-width="0.8" />
<line x1="376.7" y1="529.5" x2="381.3" y2="529.5" stroke="#222" stroke-width="0.8" />
<line x1="379" y1="527.2" x2="379" y2="531.8" stroke="#222" stroke-width="0.8" />
<line x1="395" y1="529.5" x2="399" y2="529.5" stroke="#222" stroke-width="0.8" />
<line x1="408.0" y1="529.5" x2="412.6" y2="529.5" stroke="#222" stroke-width="0.8" />
<line x1="410.3" y1="527.2" x2="410.3" y2="531.8" stroke="#222" stroke-width="0.8" />
<line x1="425.2" y1="529.5" x2="429.2" y2="529.5" stroke="#222" stroke-width="0.8" />
<line x1="438.7" y1="529.5" x2="443.3" y2="529.5" stroke="#222" stroke-width="0.8" />
<line x1="441" y1="527.2" x2="441" y2="531.8" stroke="#222" stroke-width="0.8" />
<line x1="455.7" y1="529.5" x2="459.7" y2="529.5" stroke="#222" stroke-width="0.8" />
<line x1="468.5" y1="529.5" x2="473.1" y2="529.5" stroke="#222" stroke-width="0.8" />
<line x1="470.8" y1="527.2" x2="470.8" y2="531.8" stroke="#222" stroke-width="0.8" />
<line x1="347.4" y1="542.5" x2="352.0" y2="542.5" stroke="#222" stroke-width="0.8" />
<line x1="349.7" y1="540.2" x2="349.7" y2="544.8" stroke="#222" stroke-width="0.8" />
<line x1="364" y1="542.5" x2="368" y2="542.5" stroke="#222" stroke-width="0.8" />
<line x1="377" y1="542.5" x2="381" y2="542.5" stroke="#222" stroke-width="0.8" />
<line x1="395" y1="542.5" x2="399" y2="542.5" stroke="#222" stroke-width="0.8" />
<line x1="408.3" y1="542.5" x2="412.3" y2="542.5" stroke="#222" stroke-width="0.8" />
<line x1="425.2" y1="542.5" x2="429.2" y2="542.5" stroke="#222" stroke-width="0.8" />
<line x1="439" y1="542.5" x2="443" y2="542.5" stroke="#222" stroke-width="0.8" />
<line x1="455.7" y1="542.5" x2="459.7" y2="542.5" stroke="#222" stroke-width="0.8" />
<line x1="468.8" y1="542.5" x2="472.8" y2="542.5" stroke="#222" stroke-width="0.8" />
<text x="485.4" y="545.3" font-size="8.7" textLength="16.5" lengthAdjust="spacingAndGlyphs" stroke="#1c1c1c" stroke-width="0.18" >kDa</text>
<line x1="485.4" y1="547.5" x2="502.5" y2="547.5" stroke="#222" stroke-width="0.7" />
<text x="332" y="560.3" font-size="8.7" text-anchor="end" textLength="30.8" lengthAdjust="spacingAndGlyphs" stroke="#1c1c1c" stroke-width="0.18" >Cleaved</text>
<text x="336.3" y="570.6" font-size="8.7" text-anchor="end" textLength="40" lengthAdjust="spacingAndGlyphs" stroke="#1c1c1c" stroke-width="0.18" >Caspase 3</text>
<text x="333" y="581.4" font-size="8.7" text-anchor="end" textLength="33" lengthAdjust="spacingAndGlyphs" stroke="#1c1c1c" stroke-width="0.18" >β-ACTIN</text>
<text x="332" y="598.7" font-size="8.7" text-anchor="end" textLength="30.8" lengthAdjust="spacingAndGlyphs" stroke="#1c1c1c" stroke-width="0.18" >Cleaved</text>
<text x="336.3" y="609.6" font-size="8.7" text-anchor="end" textLength="40" lengthAdjust="spacingAndGlyphs" stroke="#1c1c1c" stroke-width="0.18" >Caspase 3</text>
<text x="333" y="619.6" font-size="8.7" text-anchor="end" textLength="33" lengthAdjust="spacingAndGlyphs" stroke="#1c1c1c" stroke-width="0.18" >β-ACTIN</text>
<text x="341.8" y="634.5" font-size="8.7" textLength="37" lengthAdjust="spacingAndGlyphs" stroke="#1c1c1c" stroke-width="0.18" >whole cell</text>
<line x1="282" y1="551.8" x2="282" y2="583.3" stroke="#151515" stroke-width="1.1" />
<line x1="282" y1="590.3" x2="282" y2="622.2" stroke="#151515" stroke-width="1.1" />
<text font-size="8.7" text-anchor="middle" textLength="15" lengthAdjust="spacingAndGlyphs" stroke="#1c1c1c" stroke-width="0.18" transform="translate(277 568.8) rotate(-90)" >24hr</text>
<text font-size="8.7" text-anchor="middle" textLength="15.5" lengthAdjust="spacingAndGlyphs" stroke="#1c1c1c" stroke-width="0.18" transform="translate(277 606.5) rotate(-90)" >48hr</text>
<text x="489.5" y="564.2" font-size="8.7" textLength="9" lengthAdjust="spacingAndGlyphs" stroke="#1c1c1c" stroke-width="0.18" >19</text>
<text x="489.5" y="581.5" font-size="8.7" textLength="9.5" lengthAdjust="spacingAndGlyphs" stroke="#1c1c1c" stroke-width="0.18" >48</text>
<text x="489.5" y="601.6" font-size="8.7" textLength="9" lengthAdjust="spacingAndGlyphs" stroke="#1c1c1c" stroke-width="0.18" >19</text>
<text x="489.5" y="619" font-size="8.7" textLength="9.5" lengthAdjust="spacingAndGlyphs" stroke="#1c1c1c" stroke-width="0.18" >48</text>
<g clip-path="url(#ce1)">
<rect x="341.5" y="552" width="140.2" height="18.3" fill="url(#ge1)" />
<rect x="344.255" y="552.45" width="15.189999999999998" height="7.1000000000000005" rx="3.5500000000000003" fill="#000" opacity="0.22" filter="url(#b2_0)"/>
<rect x="345.755" y="553.95" width="12.189999999999998" height="4.1000000000000005" rx="2.0500000000000003" ry="2.0500000000000003" fill="#000" opacity="1" filter="url(#b0_8)"/>
<rect x="342.855" y="560.8499999999999" width="16.989999999999952" height="9.9" rx="4.95" fill="#000" opacity="0.22" filter="url(#b2_0)"/>
<rect x="344.355" y="562.3499999999999" width="13.989999999999952" height="6.9" rx="3.45" ry="3.45" fill="#000" opacity="1" filter="url(#b0_8)"/>
<ellipse cx="407" cy="562" rx="9" ry="7" fill="#f4f4f4" opacity="0.8" filter="url(#b3_0)"/>
</g>
<g clip-path="url(#ce2)">
<rect x="341.5" y="573.8" width="140.2" height="10" fill="#e0e0e0" />
<rect x="341.855" y="576.85" width="16.389999999999986" height="7.1000000000000005" rx="3.5500000000000003" fill="#000" opacity="0.22" filter="url(#b2_0)"/>
<rect x="343.355" y="578.35" width="13.389999999999986" height="4.1000000000000005" rx="2.0500000000000003" ry="2.0500000000000003" fill="#000" opacity="1" filter="url(#b0_8)"/>
<rect x="357.455" y="576.0500000000001" width="15.689999999999998" height="7.1000000000000005" rx="3.5500000000000003" fill="#000" opacity="0.22" filter="url(#b2_0)"/>
<rect x="358.955" y="577.5500000000001" width="12.689999999999998" height="4.1000000000000005" rx="2.0500000000000003" ry="2.0500000000000003" fill="#000" opacity="1" filter="url(#b0_8)"/>
<rect x="372.955" y="576.15" width="15.490000000000009" height="7.300000000000001" rx="3.6500000000000004" fill="#000" opacity="0.22" filter="url(#b2_0)"/>
<rect x="374.455" y="577.65" width="12.490000000000009" height="4.300000000000001" rx="2.1500000000000004" ry="2.1500000000000004" fill="#000" opacity="1" filter="url(#b0_8)"/>
<rect x="388.555" y="575.8499999999999" width="15.689999999999998" height="6.9" rx="3.45" fill="#000" opacity="0.22" filter="url(#b2_0)"/>
<rect x="390.055" y="577.3499999999999" width="12.689999999999998" height="3.9" rx="1.95" ry="1.95" fill="#000" opacity="1" filter="url(#b0_8)"/>
<rect x="404.555" y="574.35" width="16.189999999999998" height="7.1000000000000005" rx="3.5500000000000003" fill="#000" opacity="0.22" filter="url(#b2_0)"/>
<rect x="406.055" y="575.85" width="13.189999999999998" height="4.1000000000000005" rx="2.0500000000000003" ry="2.0500000000000003" fill="#000" opacity="1" filter="url(#b0_8)"/>
<rect x="420.555" y="575.25" width="15.589999999999975" height="6.9" rx="3.45" fill="#000" opacity="0.22" filter="url(#b2_0)"/>
<rect x="422.055" y="576.75" width="12.589999999999975" height="3.9" rx="1.95" ry="1.95" fill="#000" opacity="1" filter="url(#b0_8)"/>
<rect x="436.255" y="574.05" width="14.189999999999998" height="6.9" rx="3.45" fill="#000" opacity="0.22" filter="url(#b2_0)"/>
<rect x="437.755" y="575.55" width="11.189999999999998" height="3.9" rx="1.95" ry="1.95" fill="#000" opacity="1" filter="url(#b0_8)"/>
<rect x="450.055" y="575.75" width="15.589999999999975" height="6.5" rx="3.25" fill="#000" opacity="0.22" filter="url(#b2_0)"/>
<rect x="451.555" y="577.25" width="12.589999999999975" height="3.5" rx="1.75" ry="1.75" fill="#000" opacity="1" filter="url(#b0_8)"/>
<rect x="465.555" y="575.65" width="14.889999999999986" height="6.699999999999999" rx="3.3499999999999996" fill="#000" opacity="0.22" filter="url(#b2_0)"/>
<rect x="467.055" y="577.15" width="11.889999999999986" height="3.6999999999999997" rx="1.8499999999999999" ry="1.8499999999999999" fill="#000" opacity="1" filter="url(#b0_8)"/>
</g>
<g clip-path="url(#ce3)">
<rect x="341.5" y="589.3" width="140.2" height="16.5" fill="url(#ge1)" />
<rect x="342.555" y="595.8499999999999" width="15.689999999999998" height="8.9" rx="4.45" fill="#000" opacity="0.22" filter="url(#b2_0)"/>
<rect x="344.055" y="597.3499999999999" width="12.689999999999998" height="5.9" rx="2.95" ry="2.95" fill="#000" opacity="1" filter="url(#b0_8)"/>
<ellipse cx="411" cy="604" rx="7" ry="4.5" fill="#fafafa" opacity="0.9" filter="url(#b2_0)"/>
<ellipse cx="405" cy="595" rx="14" ry="3.5" fill="#999" opacity="0.35" filter="url(#b3_0)"/>
<ellipse cx="370" cy="597" rx="16" ry="4" fill="#aaa" opacity="0.25" filter="url(#b3_0)"/>
<ellipse cx="469" cy="594" rx="7" ry="1.6" fill="#555" opacity="0.3" filter="url(#b1_4)"/>
</g>
<g clip-path="url(#ce4)">
<rect x="341.5" y="609.3" width="140.2" height="14.6" fill="#d9d9d9" />
<rect x="341.355" y="613.25" width="16.889999999999986" height="8.100000000000001" rx="4.050000000000001" fill="#000" opacity="0.22" filter="url(#b2_0)"/>
<rect x="342.855" y="614.75" width="13.889999999999986" height="5.1000000000000005" rx="2.5500000000000003" ry="2.5500000000000003" fill="#000" opacity="1" filter="url(#b0_8)"/>
<rect x="357.455" y="613.75" width="15.389999999999986" height="7.5" rx="3.75" fill="#000" opacity="0.22" filter="url(#b2_0)"/>
<rect x="358.955" y="615.25" width="12.389999999999986" height="4.5" rx="2.25" ry="2.25" fill="#000" opacity="1" filter="url(#b0_8)"/>
<rect x="372.455" y="611.55" width="16.99000000000001" height="9.9" rx="4.95" fill="#000" opacity="0.22" filter="url(#b2_0)"/>
<rect x="373.955" y="613.05" width="13.990000000000009" height="6.9" rx="3.45" ry="3.45" fill="#000" opacity="1" filter="url(#b0_8)"/>
<rect x="388.055" y="612.55" width="16.289999999999964" height="8.9" rx="4.45" fill="#000" opacity="0.22" filter="url(#b2_0)"/>
<rect x="389.555" y="614.05" width="13.289999999999964" height="5.9" rx="2.95" ry="2.95" fill="#000" opacity="1" filter="url(#b0_8)"/>
<rect x="403.555" y="612.05" width="16.49000000000001" height="8.5" rx="4.25" fill="#000" opacity="0.22" filter="url(#b2_0)"/>
<rect x="405.055" y="613.55" width="13.490000000000009" height="5.5" rx="2.75" ry="2.75" fill="#000" opacity="1" filter="url(#b0_8)"/>
<rect x="418.955" y="612.15" width="16.29000000000002" height="8.3" rx="4.15" fill="#000" opacity="0.22" filter="url(#b2_0)"/>
<rect x="420.455" y="613.65" width="13.29000000000002" height="5.300000000000001" rx="2.6500000000000004" ry="2.6500000000000004" fill="#000" opacity="1" filter="url(#b0_8)"/>
<rect x="434.855" y="610.75" width="14.389999999999986" height="8.5" rx="4.25" fill="#000" opacity="0.22" filter="url(#b2_0)"/>
<rect x="436.355" y="612.25" width="11.389999999999986" height="5.5" rx="2.75" ry="2.75" fill="#000" opacity="1" filter="url(#b0_8)"/>
<rect x="448.855" y="611.75" width="15.489999999999952" height="7.5" rx="3.75" fill="#000" opacity="0.22" filter="url(#b2_0)"/>
<rect x="450.355" y="613.25" width="12.489999999999952" height="4.5" rx="2.25" ry="2.25" fill="#000" opacity="1" filter="url(#b0_8)"/>
<rect x="463.555" y="611.05" width="17.189999999999998" height="7.9" rx="3.95" fill="#000" opacity="0.22" filter="url(#b2_0)"/>
<rect x="465.055" y="612.55" width="14.189999999999998" height="4.9" rx="2.45" ry="2.45" fill="#000" opacity="1" filter="url(#b0_8)"/>
</g>
</svg>
<div id="frame"></div>
</body></html>
